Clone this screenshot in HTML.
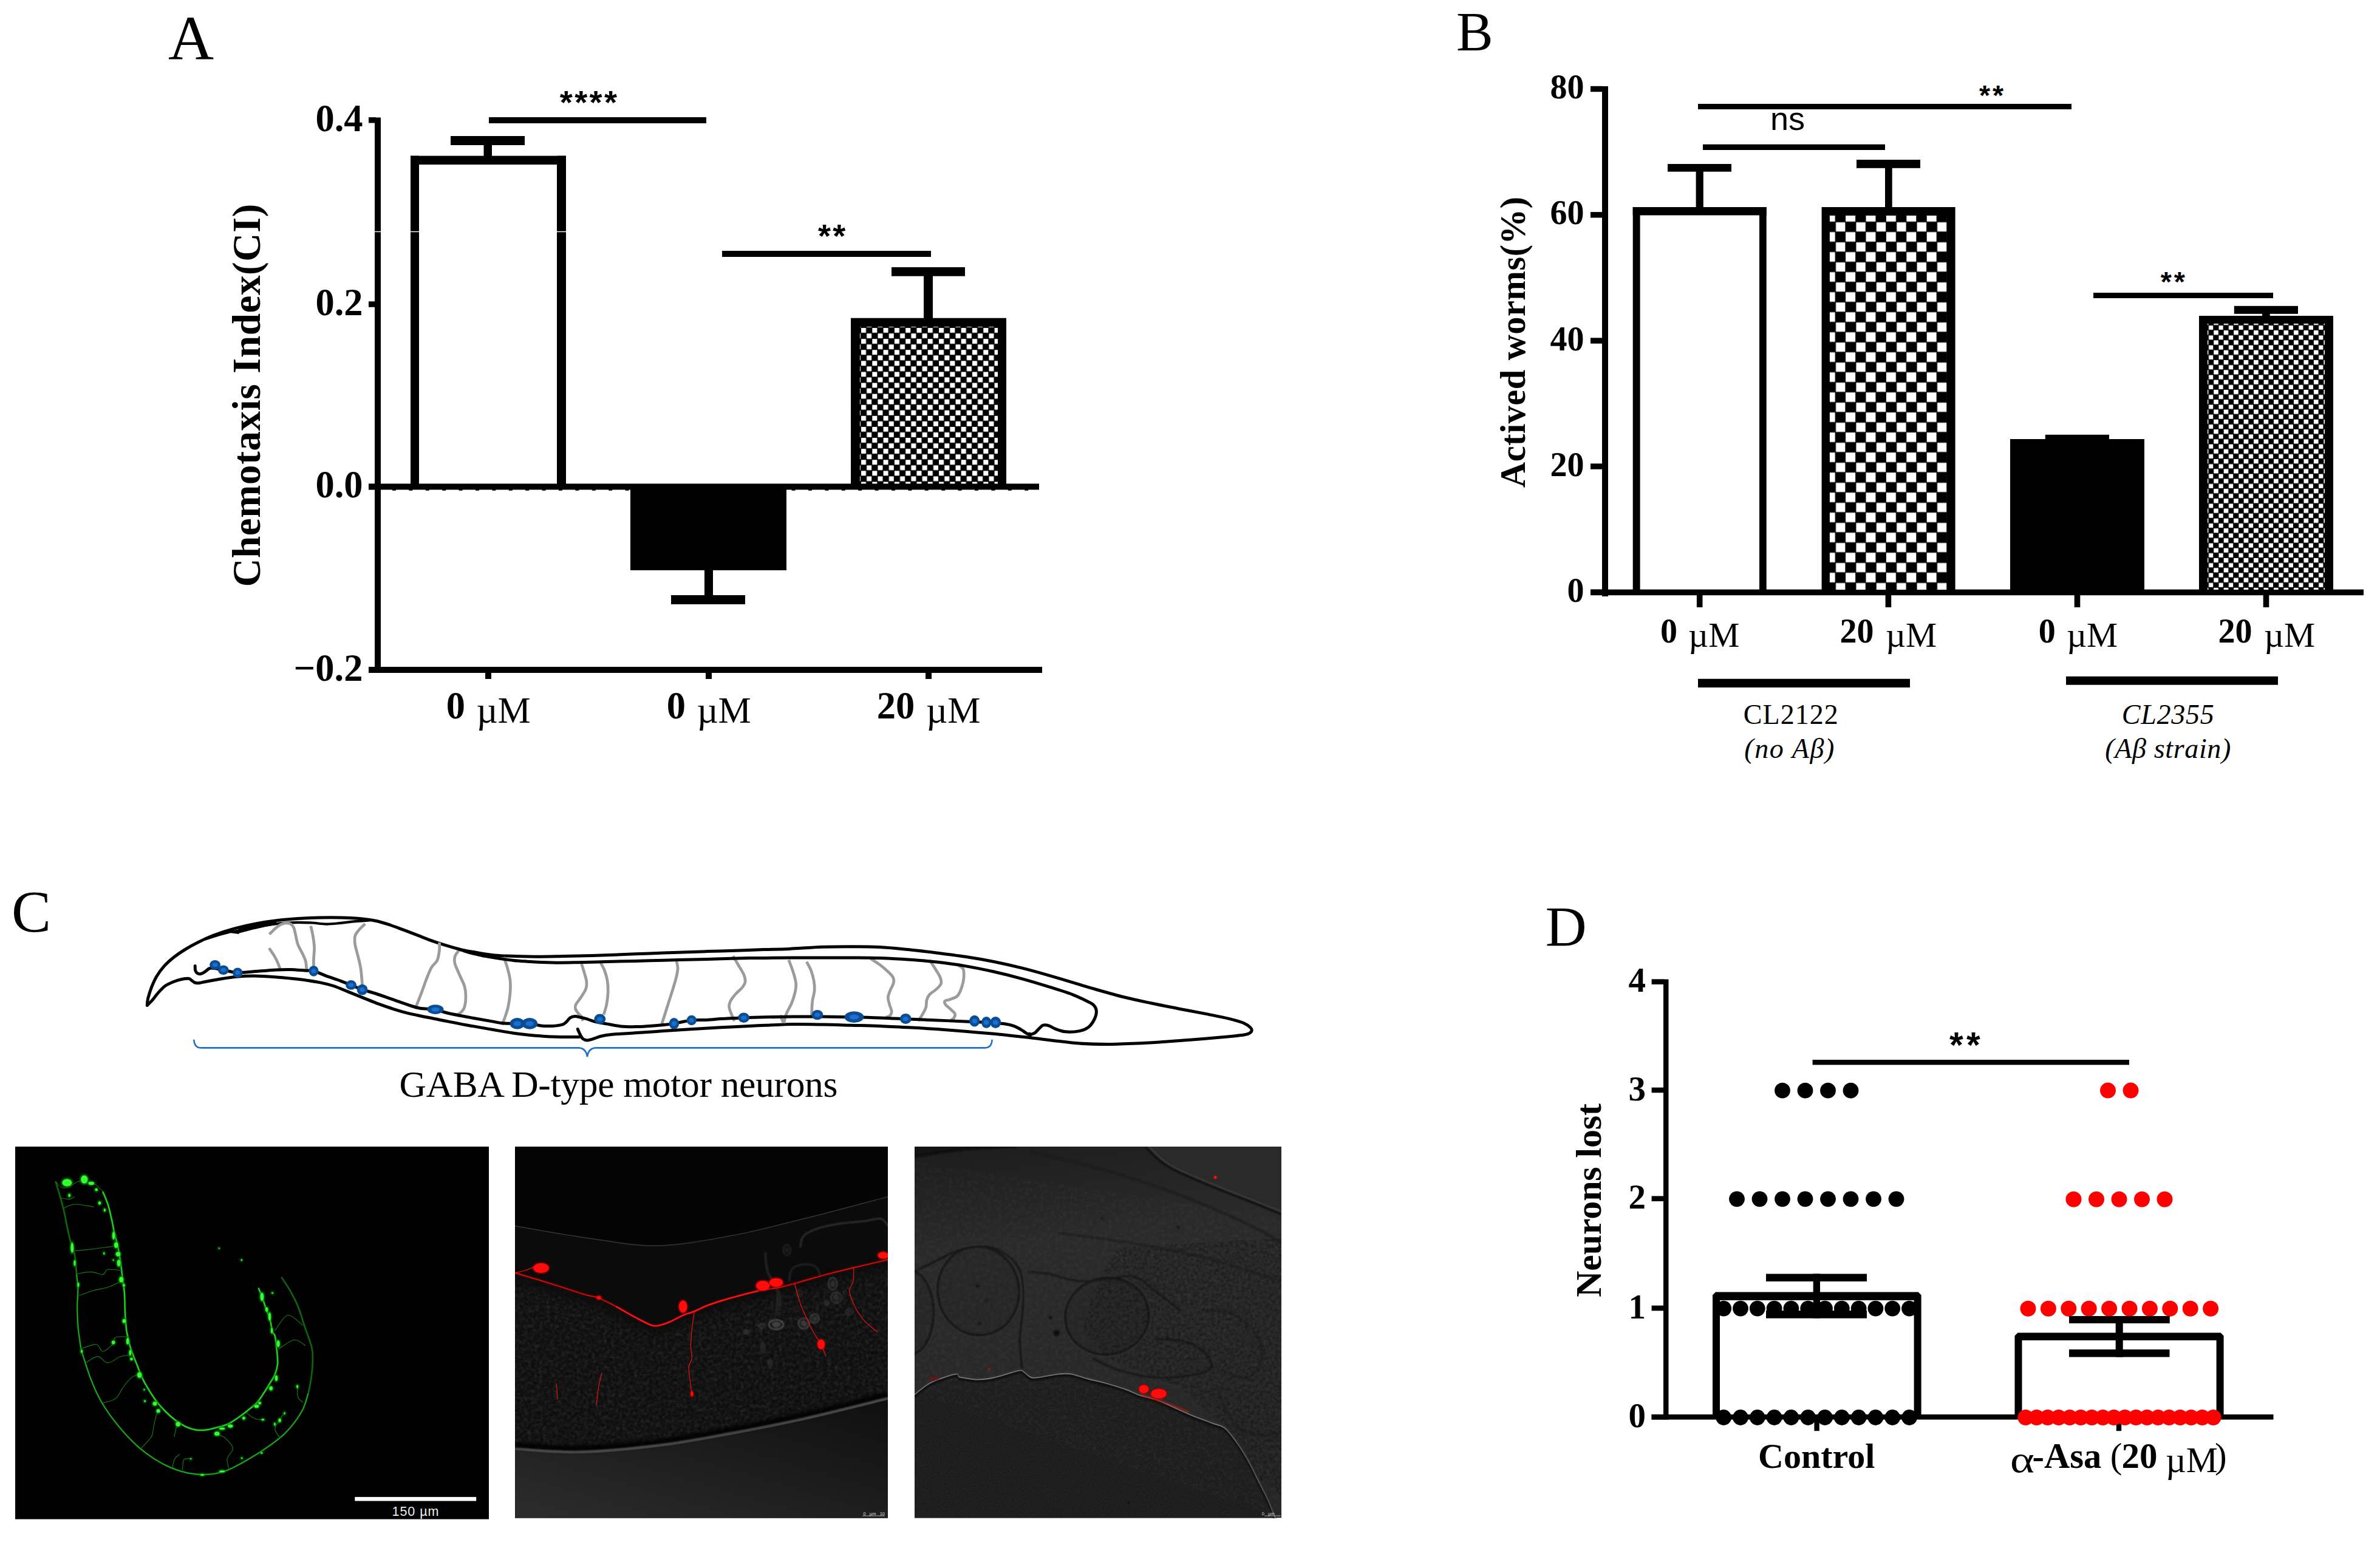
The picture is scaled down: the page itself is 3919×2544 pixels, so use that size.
<!DOCTYPE html>
<html><head><meta charset="utf-8"><title>Figure</title>
<style>
html,body{margin:0;padding:0;background:#fff;}
body{width:3919px;height:2544px;overflow:hidden;font-family:"Liberation Serif",serif;}
svg{display:block;}
text{white-space:pre;}
</style></head><body>
<svg width="3919" height="2544" viewBox="0 0 3919 2544">
<defs>
<pattern id="chkA" x="1417.0" y="539.1" width="18.3" height="18.1" patternUnits="userSpaceOnUse"><rect width="18.3" height="18.1" fill="#000"/><rect x="1.0" y="0.9" width="8.0" height="7.9" fill="#fff"/><rect x="10.15" y="9.95" width="8.0" height="7.9" fill="#fff"/></pattern>
<pattern id="chkB" x="3022.5" y="365.5" width="33.4" height="33.0" patternUnits="userSpaceOnUse"><rect width="33.4" height="33.0" fill="#000"/><rect x="0.5" y="0.5" width="15.4" height="15.2" fill="#fff"/><rect x="16.6" y="16.6" width="16.0" height="15.8" fill="#fff"/></pattern>
<pattern id="chkS" x="3636.5" y="535.5" width="16.47" height="16.3" patternUnits="userSpaceOnUse"><rect width="16.47" height="16.3" fill="#000"/><rect x="0.5" y="0.5" width="7.2" height="7.0" fill="#fff"/><rect x="8.7" y="8.5" width="7.6" height="7.3" fill="#fff"/></pattern>
</defs>
<text x="277.0" y="98.0" font-family="Liberation Serif" font-size="104" font-weight="normal" font-style="normal" text-anchor="start" fill="#000" >A</text>
<rect x="617.0" y="193.5" width="10.0" height="914.2" fill="#000" />
<rect x="607.0" y="193.1" width="12.0" height="9.4" fill="#000" />
<rect x="607.0" y="496.3" width="12.0" height="9.4" fill="#000" />
<rect x="607.0" y="796.8" width="12.0" height="9.4" fill="#000" />
<rect x="607.0" y="1098.3" width="12.0" height="9.4" fill="#000" />
<rect x="607.0" y="1098.0" width="1109.0" height="10.0" fill="#000" />
<rect x="607.0" y="796.4" width="1104.0" height="10.0" fill="#000" />
<line x1="646" y1="806.9" x2="1711" y2="806.9" stroke="#000" stroke-width="1.6" stroke-dasharray="6,21.4"/>
<rect x="799.0" y="1107.0" width="10.0" height="11.0" fill="#000" />
<rect x="1162.0" y="1107.0" width="10.0" height="11.0" fill="#000" />
<rect x="1524.0" y="1107.0" width="10.0" height="11.0" fill="#000" />
<rect x="676.0" y="256.6" width="14.0" height="544.4" fill="#000" />
<rect x="917.0" y="256.6" width="15.0" height="544.4" fill="#000" />
<rect x="676.0" y="256.6" width="256.0" height="14.4" fill="#000" />
<rect x="742.0" y="224.0" width="122.0" height="15.0" fill="#000" />
<rect x="796.5" y="224.0" width="13.5" height="34.0" fill="#000" />
<rect x="617.0" y="380.8" width="316.0" height="1.4" fill="#fff" />
<rect x="1038.0" y="800.0" width="257.0" height="139.0" fill="#000" />
<rect x="1160.0" y="939.0" width="14.0" height="56.0" fill="#000" />
<rect x="1105.0" y="980.0" width="122.0" height="15.0" fill="#000" />
<rect x="1401.0" y="523.7" width="256.0" height="278.3" fill="#000" />
<rect x="1415.9" y="537.9" width="227.1" height="258.5" fill="url(#chkA)" />
<rect x="1468.0" y="440.0" width="121.0" height="14.7" fill="#000" />
<rect x="1521.0" y="440.0" width="15.0" height="85.0" fill="#000" />
<rect x="805.0" y="193.0" width="358.0" height="10.0" fill="#000" />
<text x="921.8 946.2 970.6 995.0" y="187.1" font-family="Liberation Sans" font-weight="bold" font-size="54">****</text>
<rect x="1189.0" y="413.0" width="344.0" height="10.0" fill="#000" />
<text x="1346.9 1371.3" y="406.6" font-family="Liberation Sans" font-weight="bold" font-size="54">**</text>
<text x="597.5" y="215.5" font-family="Liberation Serif" font-size="62.5" font-weight="bold" font-style="normal" text-anchor="end" fill="#000" >0.4</text>
<text x="597.5" y="518.5" font-family="Liberation Serif" font-size="62.5" font-weight="bold" font-style="normal" text-anchor="end" fill="#000" >0.2</text>
<text x="597.5" y="819.0" font-family="Liberation Serif" font-size="62.5" font-weight="bold" font-style="normal" text-anchor="end" fill="#000" >0.0</text>
<text x="597.5" y="1120.5" font-family="Liberation Serif" font-size="62.5" font-weight="bold" font-style="normal" text-anchor="end" fill="#000" >−0.2</text>
<text x="734.7" y="1183.0" font-family="Liberation Serif" font-size="62.5" font-weight="bold">0</text>
<text x="784.4" y="1190.0" font-family="Liberation Serif" font-size="61">µM</text>
<text x="1097.7" y="1183.0" font-family="Liberation Serif" font-size="62.5" font-weight="bold">0</text>
<text x="1147.4" y="1190.0" font-family="Liberation Serif" font-size="61">µM</text>
<text x="1443.7" y="1183.0" font-family="Liberation Serif" font-size="62.5" font-weight="bold">20</text>
<text x="1525.0" y="1190.0" font-family="Liberation Serif" font-size="61">µM</text>
<text transform="translate(427.8,651.0) rotate(-90)" font-family="Liberation Serif" font-size="65" font-weight="bold" text-anchor="middle" textLength="631.0" lengthAdjust="spacing">Chemotaxis Index(CI)</text>
<text x="2398.0" y="83.0" font-family="Liberation Serif" font-size="91" font-weight="normal" font-style="normal" text-anchor="start" fill="#000" >B</text>
<rect x="2638.0" y="142.0" width="10.0" height="840.0" fill="#000" />
<rect x="2619.0" y="141.8" width="20.0" height="9.4" fill="#000" />
<rect x="2619.0" y="349.1" width="20.0" height="9.4" fill="#000" />
<rect x="2619.0" y="556.3" width="20.0" height="9.4" fill="#000" />
<rect x="2619.0" y="763.3" width="20.0" height="9.4" fill="#000" />
<rect x="2619.0" y="970.6" width="20.0" height="9.4" fill="#000" />
<rect x="2619.0" y="970.6" width="1273.0" height="9.6" fill="#000" />
<rect x="2793.9" y="979.0" width="9.6" height="21.0" fill="#000" />
<rect x="3104.6" y="979.0" width="9.6" height="21.0" fill="#000" />
<rect x="3415.7" y="979.0" width="9.6" height="21.0" fill="#000" />
<rect x="3726.7" y="979.0" width="9.6" height="21.0" fill="#000" />
<rect x="2688.7" y="341.0" width="11.9" height="634.0" fill="#000" />
<rect x="2897.0" y="341.0" width="11.7" height="634.0" fill="#000" />
<rect x="2688.7" y="341.0" width="220.0" height="13.5" fill="#000" />
<rect x="2746.0" y="270.0" width="105.0" height="12.7" fill="#000" />
<rect x="2792.6" y="270.0" width="12.2" height="72.0" fill="#000" />
<rect x="2999.6" y="341.0" width="220.0" height="634.0" fill="#000" />
<rect x="3012.9" y="355.0" width="192.8" height="616.0" fill="url(#chkB)" />
<rect x="3057.0" y="263.0" width="105.0" height="13.8" fill="#000" />
<rect x="3104.0" y="263.0" width="11.7" height="79.0" fill="#000" />
<rect x="3310.0" y="723.0" width="221.0" height="252.0" fill="#000" />
<rect x="3367.8" y="715.8" width="105.2" height="8.2" fill="#000" />
<rect x="3621.0" y="520.0" width="221.0" height="455.0" fill="#000" />
<rect x="3634.9" y="532.9" width="193.1" height="438.1" fill="url(#chkS)" />
<rect x="3678.8" y="503.8" width="105.2" height="13.0" fill="#000" />
<rect x="3725.0" y="504.0" width="12.7" height="17.0" fill="#000" />
<rect x="2796.0" y="171.0" width="615.0" height="9.0" fill="#000" />
<text x="3258.9 3280.9" y="173.1" font-family="Liberation Sans" font-weight="bold" font-size="46.5">**</text>
<rect x="2804.0" y="237.7" width="300.0" height="9.3" fill="#000" />
<text x="2943.5" y="214.3" font-family="Liberation Sans" font-size="54" font-weight="normal" font-style="normal" text-anchor="middle" fill="#000" >ns</text>
<rect x="3447.0" y="482.0" width="296.0" height="9.0" fill="#000" />
<text x="3557.7 3579.7" y="480.0" font-family="Liberation Sans" font-weight="bold" font-size="46.5">**</text>
<text x="2608.5" y="162.0" font-family="Liberation Serif" font-size="56" font-weight="bold" font-style="normal" text-anchor="end" fill="#000" >80</text>
<text x="2608.5" y="369.3" font-family="Liberation Serif" font-size="56" font-weight="bold" font-style="normal" text-anchor="end" fill="#000" >60</text>
<text x="2608.5" y="576.5" font-family="Liberation Serif" font-size="56" font-weight="bold" font-style="normal" text-anchor="end" fill="#000" >40</text>
<text x="2608.5" y="783.5" font-family="Liberation Serif" font-size="56" font-weight="bold" font-style="normal" text-anchor="end" fill="#000" >20</text>
<text x="2608.5" y="990.8" font-family="Liberation Serif" font-size="56" font-weight="bold" font-style="normal" text-anchor="end" fill="#000" >0</text>
<text x="2733.9" y="1058.0" font-family="Liberation Serif" font-size="56" font-weight="bold">0</text>
<text x="2780.1" y="1065.0" font-family="Liberation Serif" font-size="57.5">µM</text>
<text x="3029.6" y="1058.0" font-family="Liberation Serif" font-size="56" font-weight="bold">20</text>
<text x="3104.9" y="1065.0" font-family="Liberation Serif" font-size="57.5">µM</text>
<text x="3356.7" y="1058.0" font-family="Liberation Serif" font-size="56" font-weight="bold">0</text>
<text x="3402.9" y="1065.0" font-family="Liberation Serif" font-size="57.5">µM</text>
<text x="3652.6" y="1058.0" font-family="Liberation Serif" font-size="56" font-weight="bold">20</text>
<text x="3727.9" y="1065.0" font-family="Liberation Serif" font-size="57.5">µM</text>
<rect x="2796.0" y="1117.8" width="349.0" height="14.2" fill="#000" />
<rect x="3402.0" y="1113.8" width="349.0" height="13.9" fill="#000" />
<text x="2948.8" y="1192.0" font-family="Liberation Serif" font-size="46" font-weight="normal" font-style="normal" text-anchor="middle" fill="#000" textLength="156.0" lengthAdjust="spacing" >CL2122</text>
<text x="2946.3" y="1248.0" font-family="Liberation Serif" font-size="46" font-weight="normal" font-style="italic" text-anchor="middle" fill="#000" textLength="148.0" lengthAdjust="spacing" >(no Aβ)</text>
<text x="3569.8" y="1191.5" font-family="Liberation Serif" font-size="46" font-weight="normal" font-style="italic" text-anchor="middle" fill="#000" textLength="152.0" lengthAdjust="spacing" >CL2355</text>
<text x="3569.8" y="1248.0" font-family="Liberation Serif" font-size="46" font-weight="normal" font-style="italic" text-anchor="middle" fill="#000" textLength="207.0" lengthAdjust="spacing" >(Aβ strain)</text>
<text transform="translate(2511.0,563.5) rotate(-90)" font-family="Liberation Serif" font-size="58.5" font-weight="bold" text-anchor="middle" textLength="479.0" lengthAdjust="spacing">Actived worms(%)</text>
<text x="19.0" y="1534.0" font-family="Liberation Serif" font-size="97.5" font-weight="normal" font-style="normal" text-anchor="start" fill="#000" >C</text>
<path d="M242.4,1655.3C242.5,1653.5 242.4,1649.6 243.5,1644.7C244.7,1639.8 247.1,1632.0 249.4,1625.9C251.8,1619.8 254.3,1613.9 257.6,1608.2C261.0,1602.5 264.7,1597.1 269.4,1591.8C274.1,1586.5 280.0,1581.2 285.9,1576.5C291.8,1571.8 298.0,1567.6 304.7,1563.5C311.4,1559.4 318.0,1555.7 325.9,1551.8C333.7,1547.8 342.0,1543.7 351.8,1540.0C361.6,1536.3 373.3,1532.5 384.7,1529.4C396.1,1526.3 408.2,1523.5 420.0,1521.2C431.8,1518.9 443.5,1517.2 455.3,1515.8C467.1,1514.3 478.8,1513.3 490.6,1512.5C502.3,1511.7 514.1,1511.3 525.9,1511.1C537.6,1510.8 549.4,1510.7 561.2,1511.1C572.9,1511.4 586.7,1512.0 596.5,1512.9C606.3,1513.8 612.1,1514.7 620.0,1516.5C627.8,1518.2 635.7,1520.9 643.5,1523.5C651.4,1526.2 659.2,1529.3 667.1,1532.2C674.9,1535.2 682.7,1538.2 690.6,1541.2C698.4,1544.2 706.3,1547.4 714.1,1550.1C722.0,1552.9 729.8,1555.3 737.6,1557.6C745.5,1560.0 754.1,1562.6 761.2,1564.2C768.2,1565.9 771.8,1566.2 780.0,1567.5C788.2,1568.9 801.6,1571.4 810.6,1572.5C819.6,1573.6 822.4,1573.6 834.1,1574.1C845.9,1574.6 865.5,1575.2 881.2,1575.3C896.9,1575.4 912.5,1574.9 928.2,1574.6C943.9,1574.3 959.6,1573.9 975.3,1573.4C991.0,1572.9 1006.7,1572.4 1022.3,1571.8C1038.0,1571.2 1053.7,1570.5 1069.4,1569.9C1085.1,1569.3 1100.8,1568.8 1116.5,1568.2C1132.1,1567.7 1147.8,1567.1 1163.5,1566.6C1179.2,1566.1 1194.9,1565.7 1210.6,1565.2C1226.3,1564.7 1242.7,1564.0 1257.6,1563.5C1272.5,1563.1 1283.9,1563.1 1300.0,1562.4C1316.1,1561.6 1337.3,1559.9 1354.1,1559.3C1371.0,1558.7 1385.5,1558.8 1401.2,1558.8C1416.9,1558.9 1432.5,1558.7 1448.2,1559.5C1463.9,1560.3 1479.6,1562.0 1495.3,1563.5C1511.0,1565.1 1526.7,1567.0 1542.3,1568.9C1558.0,1570.9 1573.7,1572.9 1589.4,1575.3C1605.1,1577.7 1620.8,1580.4 1636.5,1583.5C1652.1,1586.7 1667.8,1590.2 1683.5,1594.1C1699.2,1598.0 1714.9,1602.5 1730.6,1607.1C1746.3,1611.6 1765.9,1617.6 1777.6,1621.2C1789.4,1624.7 1789.4,1624.9 1801.2,1628.2C1812.9,1631.6 1832.5,1637.3 1848.2,1641.2C1863.9,1645.1 1879.6,1648.4 1895.3,1651.8C1911.0,1655.1 1926.7,1658.1 1942.3,1661.2C1958.0,1664.2 1975.7,1667.4 1989.4,1670.1C2003.1,1672.9 2014.9,1675.2 2024.7,1677.6C2034.5,1680.1 2042.5,1682.3 2048.2,1684.7C2053.9,1687.1 2056.7,1689.8 2058.8,1691.8C2061.0,1693.7 2061.4,1694.9 2061.2,1696.5C2061.0,1698.0 2059.8,1699.9 2057.6,1701.2C2055.5,1702.4 2055.7,1702.9 2048.2,1704.0C2040.8,1705.1 2026.7,1706.5 2012.9,1707.8C1999.2,1709.1 1981.6,1710.5 1965.9,1711.8C1950.2,1713.0 1934.5,1714.2 1918.8,1715.3C1903.1,1716.3 1887.4,1717.4 1871.8,1718.1C1856.1,1718.8 1840.4,1719.5 1824.7,1719.5C1809.0,1719.5 1793.3,1719.2 1777.6,1718.1C1762.0,1717.0 1744.3,1714.5 1730.6,1712.9C1716.9,1711.3 1707.1,1709.8 1695.3,1708.5C1683.5,1707.1 1669.8,1705.7 1660.0,1704.7C1650.2,1703.7 1648.2,1703.4 1636.5,1702.3C1624.7,1701.3 1605.1,1699.6 1589.4,1698.3C1573.7,1697.1 1558.0,1695.7 1542.3,1694.6C1526.7,1693.5 1511.0,1692.6 1495.3,1691.8C1479.6,1690.9 1463.9,1690.0 1448.2,1689.4C1432.5,1688.8 1416.9,1688.6 1401.2,1688.2C1385.5,1687.8 1369.8,1687.3 1354.1,1687.1C1338.4,1686.8 1322.7,1686.4 1307.1,1686.6C1291.4,1686.8 1272.2,1687.8 1260.0,1688.2C1247.8,1688.7 1246.3,1688.8 1234.1,1689.4C1222.0,1690.0 1202.7,1690.9 1187.1,1691.8C1171.4,1692.6 1155.7,1693.6 1140.0,1694.6C1124.3,1695.6 1108.6,1696.6 1092.9,1697.6C1077.2,1698.7 1060.4,1699.7 1045.9,1700.7C1031.4,1701.7 1015.3,1702.6 1005.9,1703.5C996.5,1704.5 994.5,1705.1 989.4,1706.3C984.3,1707.6 979.0,1710.0 975.3,1711.1C971.6,1712.2 969.6,1713.0 967.1,1712.9C964.5,1712.9 962.0,1712.2 960.0,1710.6C958.0,1709.0 956.7,1706.2 955.3,1703.5C953.8,1700.9 952.0,1696.1 951.3,1694.6" stroke="#000" stroke-width="5.0" fill="none" stroke-linecap="round" stroke-linejoin="round" />
<path d="M953.6,1707.5C951.4,1707.5 946.2,1707.6 940.0,1707.5C933.8,1707.5 926.3,1707.7 916.5,1707.3C906.7,1706.9 892.9,1706.2 881.2,1705.2C869.4,1704.2 857.6,1702.8 845.9,1701.2C834.1,1699.5 821.6,1697.2 810.6,1695.3C799.6,1693.4 788.2,1691.3 780.0,1689.9C771.8,1688.4 768.2,1687.9 761.2,1686.6C754.1,1685.3 745.5,1683.4 737.6,1681.9C729.8,1680.3 722.0,1678.7 714.1,1677.2C706.3,1675.6 698.4,1674.2 690.6,1672.5C682.7,1670.8 674.9,1669.1 667.1,1667.1C659.2,1665.0 651.4,1662.5 643.5,1660.0C635.7,1657.4 627.8,1654.7 620.0,1651.8C612.1,1648.8 604.3,1645.5 596.5,1642.4C588.6,1639.2 580.8,1636.1 572.9,1632.9C565.1,1629.8 557.2,1626.1 549.4,1623.5C541.6,1621.0 535.7,1619.5 525.9,1617.6C516.1,1615.8 502.3,1613.7 490.6,1612.2C478.8,1610.8 467.1,1609.8 455.3,1608.9C443.5,1608.1 431.0,1607.2 420.0,1607.1C409.0,1606.9 399.2,1607.4 389.4,1608.2C379.6,1609.1 370.6,1610.7 361.2,1612.2C351.8,1613.8 338.8,1616.5 332.9,1617.6C327.1,1618.7 328.0,1618.8 325.9,1618.8C323.7,1618.8 321.8,1618.4 320.0,1617.6C318.2,1616.9 316.9,1615.2 315.3,1614.1C313.7,1613.1 313.1,1611.6 310.6,1611.3C308.0,1611.0 304.1,1611.4 300.0,1612.2C295.9,1613.1 290.6,1614.6 285.9,1616.5C281.2,1618.4 276.1,1620.4 271.8,1623.5C267.5,1626.7 263.5,1631.4 260.0,1635.3C256.5,1639.2 253.5,1643.7 250.6,1647.1C247.6,1650.4 243.7,1653.9 242.4,1655.3" stroke="#000" stroke-width="5.0" fill="none" stroke-linecap="round" stroke-linejoin="round" />
<path d="M392.9,1534.6C397.4,1533.5 411.6,1529.8 420.0,1527.8C428.4,1525.8 435.7,1523.9 443.5,1522.6C451.4,1521.3 459.2,1520.4 467.1,1519.8C474.9,1519.1 482.7,1518.9 490.6,1518.8C498.4,1518.8 506.3,1519.1 514.1,1519.5C522.0,1520.0 529.8,1521.6 537.6,1521.6C545.5,1521.7 553.3,1520.5 561.2,1519.8C569.0,1519.0 576.9,1517.9 584.7,1517.2C592.5,1516.5 604.3,1515.8 608.2,1515.5" stroke="#000" stroke-width="4.2" fill="none" stroke-linecap="round" stroke-linejoin="round" />
<path d="M392.9,1533.2C397.4,1531.9 409.6,1528.0 420.0,1525.6C430.4,1523.3 449.4,1520.2 455.3,1519.1" stroke="#000" stroke-width="7" fill="none" stroke-linecap="butt"/>
<path d="M337.6,1548.7 L361.2,1541.2 L380.0,1536.2 L393.4,1538.1 L393.4,1530.6 L380.0,1532.2 L361.2,1537.9 L337.6,1546.8 Z" fill="#000"/>
<path d="M443.5,1538.4C445.5,1536.5 451.8,1529.9 455.3,1527.1C458.8,1524.2 461.2,1522.3 464.7,1521.2C468.2,1520.1 473.3,1519.5 476.5,1520.5C479.6,1521.5 481.8,1523.6 483.5,1527.1C485.3,1530.5 485.9,1536.5 487.1,1541.2C488.2,1545.9 488.6,1550.2 490.6,1555.3C492.5,1560.4 496.7,1567.1 498.8,1571.8C501.0,1576.5 502.5,1579.2 503.5,1583.5C504.5,1587.8 504.5,1595.3 504.7,1597.6" stroke="#9b9b9b" stroke-width="4.7" fill="none" stroke-linecap="butt" stroke-linejoin="round"/>
<path d="M443.1,1561.2C444.5,1563.3 449.3,1570.0 451.8,1574.1C454.2,1578.2 455.9,1581.8 457.6,1585.9C459.4,1590.0 461.6,1596.7 462.3,1598.8" stroke="#9b9b9b" stroke-width="4.7" fill="none" stroke-linecap="butt" stroke-linejoin="round"/>
<path d="M511.8,1524.7C512.3,1527.5 514.3,1535.3 515.3,1541.2C516.3,1547.1 517.4,1553.7 517.6,1560.0C517.8,1566.3 516.7,1573.7 516.5,1578.8C516.3,1583.9 516.5,1588.6 516.5,1590.6" stroke="#9b9b9b" stroke-width="4.7" fill="none" stroke-linecap="butt" stroke-linejoin="round"/>
<path d="M601.2,1521.2C599.4,1522.9 593.3,1528.4 590.6,1531.8C587.8,1535.1 585.7,1537.3 584.7,1541.2C583.7,1545.1 583.9,1549.8 584.7,1555.3C585.5,1560.8 587.8,1567.4 589.4,1574.1C591.0,1580.8 592.9,1587.4 594.1,1595.3C595.3,1603.1 596.1,1616.9 596.5,1621.2" stroke="#9b9b9b" stroke-width="4.7" fill="none" stroke-linecap="butt" stroke-linejoin="round"/>
<path d="M723.5,1551.8C723.5,1553.9 724.1,1559.8 723.5,1564.7C722.9,1569.6 722.1,1576.5 720.0,1581.2C717.8,1585.9 713.5,1587.8 710.6,1592.9C707.6,1598.0 705.3,1604.3 702.3,1611.8C699.4,1619.2 696.1,1629.4 692.9,1637.6C689.8,1645.9 685.1,1657.3 683.5,1661.2" stroke="#9b9b9b" stroke-width="4.7" fill="none" stroke-linecap="butt" stroke-linejoin="round"/>
<path d="M757.6,1562.4C756.3,1564.3 750.9,1570.2 749.4,1574.1C748.0,1578.0 747.8,1580.8 748.9,1585.9C750.1,1591.0 753.8,1598.4 756.5,1604.7C759.1,1611.0 762.9,1617.6 764.7,1623.5C766.5,1629.4 767.0,1634.1 767.0,1640.0C767.0,1645.9 766.1,1654.3 764.7,1658.8C763.3,1663.3 760.9,1665.0 758.8,1667.1C756.7,1669.1 753.3,1670.4 752.2,1671.1" stroke="#9b9b9b" stroke-width="4.7" fill="none" stroke-linecap="butt" stroke-linejoin="round"/>
<path d="M829.4,1576.0C830.4,1578.8 833.5,1586.6 835.3,1592.9C837.1,1599.3 839.2,1607.1 840.0,1614.1C840.8,1621.2 840.6,1627.8 840.0,1635.3C839.4,1642.7 838.0,1651.8 836.5,1658.8C834.9,1665.9 832.2,1672.9 830.6,1677.6C828.9,1682.4 827.3,1685.9 826.6,1687.5" stroke="#9b9b9b" stroke-width="4.7" fill="none" stroke-linecap="butt" stroke-linejoin="round"/>
<path d="M957.6,1587.1C958.4,1589.6 961.0,1597.4 962.3,1602.4C963.7,1607.3 965.5,1612.2 965.9,1616.5C966.3,1620.8 966.3,1623.9 964.7,1628.2C963.1,1632.5 959.2,1638.0 956.5,1642.4C953.7,1646.7 949.7,1651.0 948.2,1654.1C946.7,1657.3 946.7,1658.6 947.5,1661.2C948.3,1663.7 951.1,1667.1 952.9,1669.4C954.8,1671.8 957.8,1673.3 958.8,1675.3C959.9,1677.3 959.2,1680.2 959.3,1681.2" stroke="#9b9b9b" stroke-width="4.7" fill="none" stroke-linecap="butt" stroke-linejoin="round"/>
<path d="M987.8,1582.8C989.0,1585.3 993.3,1592.4 995.3,1597.6C997.3,1602.9 999.0,1608.2 1000.0,1614.1C1001.0,1620.0 1001.4,1626.3 1001.2,1632.9C1001.0,1639.6 1000.0,1647.8 998.8,1654.1C997.6,1660.4 994.9,1667.8 994.1,1670.6" stroke="#9b9b9b" stroke-width="4.7" fill="none" stroke-linecap="butt" stroke-linejoin="round"/>
<path d="M1114.1,1582.8C1114.4,1584.9 1116.2,1590.5 1116.0,1595.3C1115.8,1600.1 1114.6,1605.1 1112.9,1611.8C1111.2,1618.4 1108.4,1627.1 1105.9,1635.3C1103.3,1643.5 1100.4,1652.5 1097.6,1661.2C1094.9,1669.9 1090.8,1683.1 1089.4,1687.5" stroke="#9b9b9b" stroke-width="4.7" fill="none" stroke-linecap="butt" stroke-linejoin="round"/>
<path d="M1207.1,1574.1C1208.4,1576.5 1212.3,1583.1 1215.3,1588.2C1218.2,1593.3 1222.7,1600.0 1224.7,1604.7C1226.7,1609.4 1227.4,1612.9 1227.1,1616.5C1226.7,1620.0 1225.1,1622.4 1222.3,1625.9C1219.6,1629.4 1213.9,1633.7 1210.6,1637.6C1207.2,1641.6 1204.0,1645.9 1202.3,1649.4C1200.7,1652.9 1200.3,1655.3 1200.7,1658.8C1201.1,1662.3 1203.2,1666.9 1204.7,1670.6C1206.1,1674.3 1208.6,1679.4 1209.4,1681.2" stroke="#9b9b9b" stroke-width="4.7" fill="none" stroke-linecap="butt" stroke-linejoin="round"/>
<path d="M1298.8,1580.7C1300.0,1583.9 1303.9,1593.6 1305.9,1600.0C1307.8,1606.4 1310.0,1613.3 1310.6,1618.8C1311.2,1624.3 1310.6,1627.4 1309.4,1632.9C1308.2,1638.4 1305.9,1645.9 1303.5,1651.8C1301.2,1657.6 1297.5,1662.7 1295.3,1668.2C1293.1,1673.7 1291.4,1682.0 1290.6,1684.7" stroke="#9b9b9b" stroke-width="4.7" fill="none" stroke-linecap="butt" stroke-linejoin="round"/>
<path d="M1284.7,1671.8C1285.6,1673.8 1289.2,1682.2 1290.1,1684.2" stroke="#9b9b9b" stroke-width="4.7" fill="none" stroke-linecap="butt" stroke-linejoin="round"/>
<path d="M1328.2,1583.5C1329.4,1585.9 1333.3,1592.5 1335.3,1597.6C1337.3,1602.7 1339.0,1608.6 1340.0,1614.1C1341.0,1619.6 1341.6,1624.7 1341.2,1630.6C1340.8,1636.5 1338.4,1642.5 1337.6,1649.4C1336.9,1656.3 1336.7,1668.0 1336.5,1671.8" stroke="#9b9b9b" stroke-width="4.7" fill="none" stroke-linecap="butt" stroke-linejoin="round"/>
<path d="M1433.6,1578.4C1436.1,1580.0 1443.4,1584.6 1448.2,1588.2C1453.0,1591.8 1458.6,1596.5 1462.3,1600.0C1466.1,1603.5 1469.1,1606.3 1470.6,1609.4C1472.1,1612.5 1472.1,1615.3 1471.3,1618.8C1470.5,1622.4 1467.4,1626.7 1465.9,1630.6C1464.4,1634.5 1462.5,1638.4 1462.3,1642.4C1462.2,1646.3 1463.7,1650.2 1464.7,1654.1C1465.7,1658.0 1468.2,1662.7 1468.2,1665.9C1468.2,1669.0 1466.3,1671.4 1464.7,1672.9C1463.1,1674.4 1459.8,1674.5 1458.8,1674.8" stroke="#9b9b9b" stroke-width="4.7" fill="none" stroke-linecap="butt" stroke-linejoin="round"/>
<path d="M1530.6,1580.7C1532.2,1583.1 1537.1,1590.5 1540.0,1595.3C1542.9,1600.1 1546.7,1605.3 1548.2,1609.4C1549.8,1613.5 1550.6,1616.7 1549.4,1620.0C1548.2,1623.3 1544.3,1626.5 1541.2,1629.4C1538.0,1632.4 1533.1,1634.7 1530.6,1637.6C1528.0,1640.6 1526.9,1643.5 1525.9,1647.1C1524.9,1650.6 1525.9,1654.9 1524.7,1658.8C1523.5,1662.7 1521.0,1666.9 1518.8,1670.6C1516.7,1674.3 1512.9,1679.4 1511.8,1681.2" stroke="#9b9b9b" stroke-width="4.7" fill="none" stroke-linecap="butt" stroke-linejoin="round"/>
<path d="M1576.5,1588.7C1578.0,1589.8 1584.1,1591.8 1585.9,1595.3C1587.6,1598.7 1587.4,1604.3 1587.1,1609.4C1586.7,1614.5 1585.3,1620.8 1583.5,1625.9C1581.8,1631.0 1579.8,1636.7 1576.5,1640.0C1573.1,1643.3 1566.9,1644.5 1563.5,1645.9C1560.1,1647.3 1557.1,1646.9 1556.0,1648.2C1554.9,1649.6 1555.3,1651.8 1556.9,1654.1C1558.6,1656.5 1563.3,1659.8 1565.9,1662.3C1568.5,1664.9 1571.7,1667.1 1572.5,1669.4C1573.2,1671.8 1571.7,1674.8 1570.6,1676.5C1569.5,1678.2 1566.7,1679.0 1565.9,1679.5" stroke="#9b9b9b" stroke-width="4.7" fill="none" stroke-linecap="butt" stroke-linejoin="round"/>
<path d="M754.1,1562.4C757.6,1563.5 767.8,1567.2 775.3,1569.2C782.7,1571.2 791.0,1572.8 798.8,1574.4C806.7,1575.9 814.5,1577.2 822.4,1578.4C830.2,1579.5 840.0,1580.7 845.9,1581.4C851.8,1582.1 851.8,1581.9 857.6,1582.4C863.5,1582.8 871.4,1583.5 881.2,1584.0C891.0,1584.5 904.7,1585.1 916.5,1585.2C928.2,1585.3 938.0,1585.0 951.8,1584.7C965.5,1584.4 983.1,1583.9 998.8,1583.5C1014.5,1583.1 1030.2,1582.7 1045.9,1582.4C1061.6,1582.0 1077.2,1581.6 1092.9,1581.2C1108.6,1580.8 1124.3,1580.4 1140.0,1580.0C1155.7,1579.6 1171.4,1579.2 1187.1,1578.8C1202.7,1578.4 1222.0,1577.9 1234.1,1577.6C1246.3,1577.4 1243.9,1577.5 1260.0,1577.4C1276.1,1577.3 1307.1,1577.0 1330.6,1576.9C1354.1,1576.9 1381.6,1576.8 1401.2,1576.9C1420.8,1577.1 1432.5,1577.1 1448.2,1577.6C1463.9,1578.2 1479.6,1578.9 1495.3,1580.0C1511.0,1581.1 1526.7,1582.2 1542.3,1584.0C1558.0,1585.8 1573.7,1587.9 1589.4,1590.6C1605.1,1593.3 1620.8,1596.5 1636.5,1600.0C1652.1,1603.5 1667.8,1607.4 1683.5,1611.8C1699.2,1616.1 1716.9,1621.6 1730.6,1625.9C1744.3,1630.2 1756.1,1633.9 1765.9,1637.6C1775.7,1641.4 1783.5,1645.3 1789.4,1648.2C1795.3,1651.2 1798.5,1652.3 1801.2,1655.3C1803.8,1658.2 1805.4,1661.8 1805.4,1665.9C1805.4,1670.0 1803.4,1675.7 1801.2,1680.0C1798.9,1684.3 1795.7,1688.8 1791.8,1691.8C1787.8,1694.7 1783.9,1696.5 1777.6,1697.6C1771.4,1698.8 1760.8,1699.4 1754.1,1698.8C1747.4,1698.2 1742.1,1695.8 1737.6,1694.1C1733.1,1692.5 1730.4,1689.9 1727.1,1688.9C1723.7,1688.0 1720.4,1687.4 1717.6,1688.2C1714.9,1689.1 1712.9,1692.0 1710.6,1694.1C1708.2,1696.3 1706.1,1699.6 1703.5,1701.2C1701.0,1702.7 1697.4,1703.4 1695.3,1703.5C1693.1,1703.6 1692.9,1703.0 1690.6,1701.6C1688.2,1700.3 1684.7,1697.3 1681.2,1695.3C1677.6,1693.3 1673.7,1691.0 1669.4,1689.4C1665.1,1687.8 1662.7,1686.9 1655.3,1685.9C1647.8,1684.9 1635.7,1684.2 1624.7,1683.5C1613.7,1682.9 1603.1,1682.5 1589.4,1681.9C1575.7,1681.3 1558.0,1680.6 1542.3,1680.0C1526.7,1679.4 1511.0,1678.8 1495.3,1678.1C1479.6,1677.4 1463.9,1676.5 1448.2,1676.0C1432.5,1675.4 1416.9,1675.1 1401.2,1674.8C1385.5,1674.5 1369.8,1674.2 1354.1,1674.1C1338.4,1674.0 1322.7,1674.0 1307.1,1674.1C1291.4,1674.2 1273.7,1674.5 1260.0,1674.8C1246.3,1675.1 1232.9,1675.5 1224.7,1675.8C1216.5,1676.0 1216.9,1676.2 1210.6,1676.5C1204.3,1676.8 1194.9,1677.1 1187.1,1677.6C1179.2,1678.2 1171.6,1679.1 1163.5,1679.5C1155.5,1679.9 1147.8,1679.0 1138.8,1680.0C1129.8,1681.0 1117.1,1684.2 1109.4,1685.4C1101.8,1686.7 1099.6,1686.9 1092.9,1687.5C1086.3,1688.2 1077.2,1688.9 1069.4,1689.4C1061.6,1689.9 1053.7,1690.5 1045.9,1690.6C1038.0,1690.7 1030.2,1690.7 1022.3,1689.9C1014.5,1689.1 1005.9,1687.1 998.8,1685.9C991.8,1684.6 985.5,1683.7 980.0,1682.3C974.5,1681.0 969.8,1678.8 965.9,1677.6C962.0,1676.5 959.6,1676.0 956.5,1675.3C953.3,1674.6 950.0,1673.3 947.1,1673.4C944.1,1673.5 941.2,1674.3 938.8,1675.8C936.5,1677.3 935.1,1680.5 932.9,1682.3C930.8,1684.2 929.8,1685.9 925.9,1687.1C922.0,1688.2 915.3,1689.1 909.4,1689.4C903.5,1689.7 896.8,1689.6 890.6,1688.9C884.4,1688.3 878.7,1686.0 872.2,1685.4C865.8,1684.8 859.3,1685.5 851.8,1685.4C844.2,1685.3 833.9,1685.3 827.1,1684.7C820.2,1684.1 818.4,1683.3 810.6,1681.9C802.7,1680.5 792.2,1678.7 780.0,1676.5C767.8,1674.2 748.2,1670.6 737.6,1668.2C727.0,1665.9 724.3,1663.7 716.5,1662.3C708.6,1661.0 698.8,1661.6 690.6,1660.0C682.3,1658.4 674.9,1655.5 667.1,1652.9C659.2,1650.4 651.4,1647.4 643.5,1644.7C635.7,1642.0 627.8,1639.0 620.0,1636.5C612.1,1633.9 603.5,1631.8 596.5,1629.4C589.4,1627.0 583.5,1624.2 577.6,1621.9C571.8,1619.5 567.8,1617.8 561.2,1615.3C554.5,1612.8 545.1,1609.8 537.6,1607.1C530.2,1604.3 522.3,1600.3 516.5,1598.8C510.6,1597.3 508.6,1598.5 502.3,1598.1C496.1,1597.7 486.7,1596.7 478.8,1596.5C471.0,1596.3 465.1,1596.4 455.3,1596.9C445.5,1597.4 430.7,1598.7 420.0,1599.5C409.3,1600.3 400.0,1602.0 391.3,1601.6C382.6,1601.3 375.1,1598.4 367.8,1597.2C360.4,1595.9 352.1,1593.6 347.1,1594.1C342.0,1594.6 340.4,1598.4 337.6,1600.0C334.9,1601.6 332.7,1603.1 330.6,1603.5C328.4,1603.9 326.2,1603.3 324.7,1602.4C323.2,1601.4 322.2,1599.6 321.6,1597.6C321.1,1595.7 321.3,1591.8 321.2,1590.6" stroke="#000" stroke-width="5.0" fill="none" stroke-linecap="round" stroke-linejoin="round" />
<path d="M1695.3,1702.3C1695.5,1703.3 1696.3,1706.9 1696.5,1707.8" stroke="#000" stroke-width="5.0" fill="none" stroke-linecap="round" stroke-linejoin="round" />
<ellipse cx="354.1" cy="1588.7" rx="8.9" ry="7.8" fill="#0a4d93"/>
<ellipse cx="354.1" cy="1588.7" rx="4.5" ry="3.3" fill="#1c6fd0"/>
<ellipse cx="367.8" cy="1597.2" rx="8.9" ry="7.8" fill="#0a4d93"/>
<ellipse cx="367.8" cy="1597.2" rx="4.5" ry="3.3" fill="#1c6fd0"/>
<ellipse cx="391.3" cy="1601.6" rx="8.2" ry="8.2" fill="#0a4d93"/>
<ellipse cx="391.3" cy="1601.6" rx="4.1" ry="3.5" fill="#1c6fd0"/>
<ellipse cx="516.5" cy="1598.8" rx="8.0" ry="8.9" fill="#0a4d93"/>
<ellipse cx="516.5" cy="1598.8" rx="4.0" ry="3.8" fill="#1c6fd0"/>
<ellipse cx="578.1" cy="1621.9" rx="8.9" ry="7.8" fill="#0a4d93"/>
<ellipse cx="578.1" cy="1621.9" rx="4.5" ry="3.3" fill="#1c6fd0"/>
<ellipse cx="596.5" cy="1629.6" rx="8.9" ry="8.9" fill="#0a4d93"/>
<ellipse cx="596.5" cy="1629.6" rx="4.5" ry="3.8" fill="#1c6fd0"/>
<ellipse cx="716.9" cy="1662.1" rx="13.6" ry="7.8" fill="#0a4d93"/>
<ellipse cx="716.9" cy="1662.1" rx="6.8" ry="3.3" fill="#1c6fd0"/>
<ellipse cx="851.8" cy="1685.4" rx="12.2" ry="9.4" fill="#0a4d93"/>
<ellipse cx="851.8" cy="1685.4" rx="6.1" ry="4.0" fill="#1c6fd0"/>
<ellipse cx="872.2" cy="1685.4" rx="12.9" ry="9.4" fill="#0a4d93"/>
<ellipse cx="872.2" cy="1685.4" rx="6.5" ry="4.0" fill="#1c6fd0"/>
<ellipse cx="987.8" cy="1678.1" rx="9.4" ry="8.5" fill="#0a4d93"/>
<ellipse cx="987.8" cy="1678.1" rx="4.7" ry="3.6" fill="#1c6fd0"/>
<ellipse cx="1109.9" cy="1685.4" rx="8.2" ry="9.4" fill="#0a4d93"/>
<ellipse cx="1109.9" cy="1685.4" rx="4.1" ry="4.0" fill="#1c6fd0"/>
<ellipse cx="1138.8" cy="1680.0" rx="8.2" ry="8.2" fill="#0a4d93"/>
<ellipse cx="1138.8" cy="1680.0" rx="4.1" ry="3.5" fill="#1c6fd0"/>
<ellipse cx="1224.7" cy="1675.8" rx="9.4" ry="8.2" fill="#0a4d93"/>
<ellipse cx="1224.7" cy="1675.8" rx="4.7" ry="3.5" fill="#1c6fd0"/>
<ellipse cx="1345.9" cy="1671.1" rx="9.4" ry="8.2" fill="#0a4d93"/>
<ellipse cx="1345.9" cy="1671.1" rx="4.7" ry="3.5" fill="#1c6fd0"/>
<ellipse cx="1406.4" cy="1674.6" rx="16.0" ry="9.4" fill="#0a4d93"/>
<ellipse cx="1406.4" cy="1674.6" rx="8.0" ry="4.0" fill="#1c6fd0"/>
<ellipse cx="1491.3" cy="1677.6" rx="9.4" ry="8.5" fill="#0a4d93"/>
<ellipse cx="1491.3" cy="1677.6" rx="4.7" ry="3.6" fill="#1c6fd0"/>
<ellipse cx="1604.7" cy="1681.2" rx="8.5" ry="9.4" fill="#0a4d93"/>
<ellipse cx="1604.7" cy="1681.2" rx="4.2" ry="4.0" fill="#1c6fd0"/>
<ellipse cx="1624.2" cy="1683.5" rx="8.2" ry="9.4" fill="#0a4d93"/>
<ellipse cx="1624.2" cy="1683.5" rx="4.1" ry="4.0" fill="#1c6fd0"/>
<ellipse cx="1639.3" cy="1683.5" rx="8.9" ry="9.4" fill="#0a4d93"/>
<ellipse cx="1639.3" cy="1683.5" rx="4.5" ry="4.0" fill="#1c6fd0"/>
<path d="M319.3,1711.8 Q320,1725.4 331,1725.4 L953,1725.4 Q965,1726 967,1740 Q969,1726 981,1725.4 L1622,1725.4 Q1633,1725.4 1633.6,1711.8" stroke="#1f6fc6" stroke-width="2.6" fill="none"/>
<text x="1018.5" y="1806.4" font-family="Liberation Serif" font-size="61.5" font-weight="normal" font-style="normal" text-anchor="middle" fill="#000" textLength="722.0" lengthAdjust="spacing" >GABA D-type motor neurons</text>
<defs><filter id="gl" x="-50%" y="-50%" width="200%" height="200%"><feGaussianBlur stdDeviation="1.6"/></filter><filter id="gl2" x="-50%" y="-50%" width="200%" height="200%"><feGaussianBlur stdDeviation="0.7"/></filter><clipPath id="cp1"><rect x="25" y="1888" width="780" height="613.5"/></clipPath><clipPath id="cp2"><rect x="848" y="1888" width="614" height="611.5"/></clipPath><clipPath id="cp3"><rect x="1506" y="1888" width="604" height="611.5"/></clipPath></defs>
<rect x="25.0" y="1888.0" width="780.0" height="613.5" fill="#000" />
<g clip-path="url(#cp1)">
<path d="M91.5,1945.2 L97.8,1966.2 L105.2,1993.5 L112.5,2029.2 L117.8,2050.2 L123.0,2067.1 L126.2,2098.6 L128.3,2121.7 L127.2,2151.1 L128.3,2182.6 L130.4,2200.0 L133.5,2221.0 L139.8,2242.0 L148.2,2267.2 L158.7,2292.4 L171.3,2315.5 L186.0,2336.6 L205.0,2359.7 L228.1,2382.8 L253.3,2401.7 L280.6,2416.4 L307.9,2425.2 L333.1,2427.9 L354.1,2426.5 L375.1,2420.6 L396.1,2410.1 L421.3,2395.4 L446.5,2378.6 L467.6,2361.8 L484.4,2342.9 L499.1,2319.7 L507.5,2294.5 L512.7,2267.2 L514.8,2242.0 L513.4,2218.9 L501.2,2182.6 L490.7,2151.1 L478.1,2125.9 L463.4,2102.8 L425.5,2120.6 L431.8,2136.4 L438.1,2155.3 L444.4,2172.1 L448.6,2193.1 L452.8,2200.0 L456.0,2225.2 L457.1,2246.2 L452.8,2263.0 L444.4,2277.7 L433.9,2294.5 L423.4,2309.2 L408.7,2321.8 L391.9,2334.5 L375.1,2345.0 L358.3,2350.2 L339.4,2354.4 L322.6,2354.4 L305.8,2349.2 L289.0,2338.7 L272.2,2323.9 L257.5,2307.1 L244.9,2288.2 L234.4,2269.3 L226.0,2248.3 L215.5,2221.0 L210.2,2200.0 L208.1,2188.9 L206.0,2161.6 L205.0,2130.1 L201.8,2104.9 L198.7,2079.7 L194.5,2054.5 L188.1,2029.2 L183.9,2008.2 L177.6,1983.0 L169.2,1962.0 Z" fill="#010501" filter="url(#b3)"/>
<g filter="url(#gl2)">
<path d="M91.5,1945.2C92.6,1948.7 95.5,1958.2 97.8,1966.2C100.1,1974.3 102.7,1983.0 105.2,1993.5C107.6,2004.0 110.4,2019.8 112.5,2029.2C114.6,2038.7 116.0,2043.9 117.8,2050.2C119.5,2056.6 121.6,2059.0 123.0,2067.1C124.4,2075.1 125.3,2089.5 126.2,2098.6C127.1,2107.7 128.1,2112.9 128.3,2121.7C128.5,2130.4 127.2,2140.9 127.2,2151.1C127.2,2161.2 127.8,2174.4 128.3,2182.6C128.8,2190.8 129.5,2193.6 130.4,2200.0C131.3,2206.4 132.0,2214.0 133.5,2221.0C135.1,2228.0 137.4,2234.3 139.8,2242.0C142.3,2249.7 145.1,2258.8 148.2,2267.2C151.4,2275.6 154.9,2284.4 158.7,2292.4C162.6,2300.5 166.8,2308.2 171.3,2315.5C175.9,2322.9 180.4,2329.2 186.0,2336.6C191.7,2343.9 198.0,2352.0 205.0,2359.7C212.0,2367.4 220.0,2375.8 228.1,2382.8C236.1,2389.8 244.5,2396.1 253.3,2401.7C262.0,2407.3 271.5,2412.5 280.6,2416.4C289.7,2420.3 299.1,2423.3 307.9,2425.2C316.6,2427.1 325.4,2427.7 333.1,2427.9C340.8,2428.1 347.1,2427.7 354.1,2426.5C361.1,2425.2 368.1,2423.3 375.1,2420.6C382.1,2417.9 388.4,2414.3 396.1,2410.1C403.8,2405.9 412.9,2400.6 421.3,2395.4C429.7,2390.1 438.8,2384.2 446.5,2378.6C454.3,2373.0 461.3,2367.7 467.6,2361.8C473.9,2355.8 479.1,2349.9 484.4,2342.9C489.6,2335.9 495.2,2327.8 499.1,2319.7C502.9,2311.7 505.2,2303.3 507.5,2294.5C509.7,2285.8 511.5,2276.0 512.7,2267.2C513.9,2258.5 514.7,2250.1 514.8,2242.0C514.9,2234.0 515.6,2228.8 513.4,2218.9C511.1,2209.0 504.9,2193.9 501.2,2182.6C497.4,2171.3 494.5,2160.5 490.7,2151.1C486.8,2141.6 482.6,2133.9 478.1,2125.9C473.5,2117.8 465.8,2106.6 463.4,2102.8" stroke="#085008" stroke-width="3.0" fill="none"/>
<path d="M169.2,1962.0C170.6,1965.5 175.2,1975.3 177.6,1983.0C180.1,1990.7 182.2,2000.5 183.9,2008.2C185.7,2015.9 186.4,2021.5 188.1,2029.2C189.9,2036.9 192.7,2046.0 194.5,2054.5C196.2,2062.9 197.4,2071.3 198.7,2079.7C199.9,2088.1 200.8,2096.5 201.8,2104.9C202.9,2113.3 204.3,2120.6 205.0,2130.1C205.7,2139.5 205.5,2151.8 206.0,2161.6C206.5,2171.4 207.4,2182.5 208.1,2188.9C208.8,2195.3 209.0,2194.6 210.2,2200.0C211.4,2205.4 212.8,2213.0 215.5,2221.0C218.1,2229.1 222.8,2240.3 226.0,2248.3C229.1,2256.4 231.2,2262.7 234.4,2269.3C237.5,2276.0 241.0,2281.9 244.9,2288.2C248.7,2294.5 252.9,2301.2 257.5,2307.1C262.0,2313.1 266.9,2318.7 272.2,2323.9C277.4,2329.2 283.4,2334.5 289.0,2338.7C294.6,2342.9 300.2,2346.5 305.8,2349.2C311.4,2351.8 317.0,2353.5 322.6,2354.4C328.2,2355.3 333.5,2355.1 339.4,2354.4C345.4,2353.7 352.4,2351.8 358.3,2350.2C364.3,2348.6 369.5,2347.6 375.1,2345.0C380.7,2342.3 386.3,2338.3 391.9,2334.5C397.5,2330.6 403.5,2326.0 408.7,2321.8C414.0,2317.6 419.2,2313.8 423.4,2309.2C427.6,2304.7 430.4,2299.8 433.9,2294.5C437.4,2289.3 441.3,2283.0 444.4,2277.7C447.6,2272.5 450.7,2268.3 452.8,2263.0C455.0,2257.8 456.5,2252.5 457.1,2246.2C457.6,2239.9 456.7,2232.9 456.0,2225.2C455.3,2217.5 454.1,2205.4 452.8,2200.0C451.6,2194.6 450.0,2197.8 448.6,2193.1C447.2,2188.5 446.2,2178.4 444.4,2172.1C442.7,2165.8 440.2,2161.2 438.1,2155.3C436.0,2149.3 433.9,2142.2 431.8,2136.4C429.7,2130.6 426.6,2123.3 425.5,2120.6" stroke="#0c6a0c" stroke-width="3.6" fill="none"/>
</g>
<path d="M91.5,1945.2C92.6,1948.7 95.5,1958.2 97.8,1966.2C100.1,1974.3 102.7,1983.0 105.2,1993.5C107.6,2004.0 110.4,2019.8 112.5,2029.2C114.6,2038.7 116.0,2043.9 117.8,2050.2C119.5,2056.6 121.6,2059.0 123.0,2067.1C124.4,2075.1 125.3,2089.5 126.2,2098.6C127.1,2107.7 128.1,2112.9 128.3,2121.7C128.5,2130.4 127.2,2140.9 127.2,2151.1C127.2,2161.2 127.8,2174.4 128.3,2182.6C128.8,2190.8 129.5,2193.6 130.4,2200.0C131.3,2206.4 132.0,2214.0 133.5,2221.0C135.1,2228.0 137.4,2234.3 139.8,2242.0C142.3,2249.7 145.1,2258.8 148.2,2267.2C151.4,2275.6 154.9,2284.4 158.7,2292.4C162.6,2300.5 166.8,2308.2 171.3,2315.5C175.9,2322.9 180.4,2329.2 186.0,2336.6C191.7,2343.9 198.0,2352.0 205.0,2359.7C212.0,2367.4 220.0,2375.8 228.1,2382.8C236.1,2389.8 244.5,2396.1 253.3,2401.7C262.0,2407.3 271.5,2412.5 280.6,2416.4C289.7,2420.3 299.1,2423.3 307.9,2425.2C316.6,2427.1 325.4,2427.7 333.1,2427.9C340.8,2428.1 347.1,2427.7 354.1,2426.5C361.1,2425.2 368.1,2423.3 375.1,2420.6C382.1,2417.9 388.4,2414.3 396.1,2410.1C403.8,2405.9 412.9,2400.6 421.3,2395.4C429.7,2390.1 438.8,2384.2 446.5,2378.6C454.3,2373.0 461.3,2367.7 467.6,2361.8C473.9,2355.8 479.1,2349.9 484.4,2342.9C489.6,2335.9 495.2,2327.8 499.1,2319.7C502.9,2311.7 505.2,2303.3 507.5,2294.5C509.7,2285.8 511.5,2276.0 512.7,2267.2C513.9,2258.5 514.7,2250.1 514.8,2242.0C514.9,2234.0 515.6,2228.8 513.4,2218.9C511.1,2209.0 504.9,2193.9 501.2,2182.6C497.4,2171.3 494.5,2160.5 490.7,2151.1C486.8,2141.6 482.6,2133.9 478.1,2125.9C473.5,2117.8 465.8,2106.6 463.4,2102.8" stroke="#117a11" stroke-width="1.0" fill="none"/>
<path d="M126.2,2098.6C126.5,2102.4 128.1,2112.9 128.3,2121.7C128.5,2130.4 127.2,2140.9 127.2,2151.1C127.2,2161.2 127.8,2174.4 128.3,2182.6C128.8,2190.8 129.5,2193.6 130.4,2200.0C131.3,2206.4 132.0,2214.0 133.5,2221.0C135.1,2228.0 137.4,2234.3 139.8,2242.0C142.3,2249.7 145.1,2258.8 148.2,2267.2C151.4,2275.6 154.9,2284.4 158.7,2292.4C162.6,2300.5 166.8,2308.2 171.3,2315.5C175.9,2322.9 180.4,2329.2 186.0,2336.6C191.7,2343.9 198.0,2352.0 205.0,2359.7C212.0,2367.4 220.0,2375.8 228.1,2382.8C236.1,2389.8 244.5,2396.1 253.3,2401.7C262.0,2407.3 271.5,2412.5 280.6,2416.4C289.7,2420.3 299.1,2423.3 307.9,2425.2C316.6,2427.1 325.4,2427.7 333.1,2427.9C340.8,2428.1 347.1,2427.7 354.1,2426.5C361.1,2425.2 368.1,2423.3 375.1,2420.6C382.1,2417.9 388.4,2414.3 396.1,2410.1C403.8,2405.9 412.9,2400.6 421.3,2395.4C429.7,2390.1 438.8,2384.2 446.5,2378.6C454.3,2373.0 461.3,2367.7 467.6,2361.8C473.9,2355.8 479.1,2349.9 484.4,2342.9C489.6,2335.9 495.2,2327.8 499.1,2319.7C502.9,2311.7 506.1,2298.7 507.5,2294.5" stroke="#1fc41f" stroke-width="1.2" fill="none"/>
<path d="M169.2,1962.0C170.6,1965.5 175.2,1975.3 177.6,1983.0C180.1,1990.7 182.2,2000.5 183.9,2008.2C185.7,2015.9 186.4,2021.5 188.1,2029.2C189.9,2036.9 192.7,2046.0 194.5,2054.5C196.2,2062.9 197.4,2071.3 198.7,2079.7C199.9,2088.1 200.8,2096.5 201.8,2104.9C202.9,2113.3 204.3,2120.6 205.0,2130.1C205.7,2139.5 205.5,2151.8 206.0,2161.6C206.5,2171.4 207.4,2182.5 208.1,2188.9C208.8,2195.3 209.0,2194.6 210.2,2200.0C211.4,2205.4 212.8,2213.0 215.5,2221.0C218.1,2229.1 222.8,2240.3 226.0,2248.3C229.1,2256.4 231.2,2262.7 234.4,2269.3C237.5,2276.0 241.0,2281.9 244.9,2288.2C248.7,2294.5 252.9,2301.2 257.5,2307.1C262.0,2313.1 266.9,2318.7 272.2,2323.9C277.4,2329.2 283.4,2334.5 289.0,2338.7C294.6,2342.9 300.2,2346.5 305.8,2349.2C311.4,2351.8 317.0,2353.5 322.6,2354.4C328.2,2355.3 333.5,2355.1 339.4,2354.4C345.4,2353.7 352.4,2351.8 358.3,2350.2C364.3,2348.6 369.5,2347.6 375.1,2345.0C380.7,2342.3 386.3,2338.3 391.9,2334.5C397.5,2330.6 403.5,2326.0 408.7,2321.8C414.0,2317.6 419.2,2313.8 423.4,2309.2C427.6,2304.7 430.4,2299.8 433.9,2294.5C437.4,2289.3 441.3,2283.0 444.4,2277.7C447.6,2272.5 450.7,2268.3 452.8,2263.0C455.0,2257.8 456.5,2252.5 457.1,2246.2C457.6,2239.9 456.7,2232.9 456.0,2225.2C455.3,2217.5 454.1,2205.4 452.8,2200.0C451.6,2194.6 450.0,2197.8 448.6,2193.1C447.2,2188.5 446.2,2178.4 444.4,2172.1C442.7,2165.8 440.2,2161.2 438.1,2155.3C436.0,2149.3 433.9,2142.2 431.8,2136.4C429.7,2130.6 426.6,2123.3 425.5,2120.6" stroke="#2aea2a" stroke-width="1.5" fill="none"/>
<path d="M91.5,1945.2C93.3,1947.0 98.2,1954.3 102.0,1955.7C105.9,1957.1 110.1,1955.4 114.6,1953.6C119.2,1951.9 124.4,1946.3 129.3,1945.2C134.2,1944.2 139.1,1946.3 144.0,1947.3C148.9,1948.4 154.5,1949.1 158.7,1951.5C162.9,1954.0 167.5,1960.3 169.2,1962.0" stroke="#158a15" stroke-width="1" fill="none"/>
<path d="M105.2,1989.3C108.1,1988.3 114.8,1983.4 123.0,1983.0C131.3,1982.7 149.3,1986.5 154.5,1987.2" stroke="#157f15" stroke-width="1.1" fill="none"/>
<path d="M99.9,1972.5C102.4,1972.9 110.8,1975.0 114.6,1974.6C118.5,1974.3 121.6,1971.1 123.0,1970.4" stroke="#157f15" stroke-width="1.1" fill="none"/>
<path d="M123.0,2059.7C126.5,2059.4 136.3,2058.5 144.0,2057.6C151.7,2056.7 162.2,2055.3 169.2,2054.5C176.2,2053.6 183.2,2052.7 186.0,2052.4" stroke="#157f15" stroke-width="1.1" fill="none"/>
<path d="M126.2,2097.5C130.2,2097.0 143.2,2094.2 150.3,2094.4C157.5,2094.5 164.7,2099.3 169.2,2098.6C173.8,2097.9 172.0,2091.2 177.6,2090.2C183.2,2089.1 198.7,2091.9 202.9,2092.3" stroke="#157f15" stroke-width="1.1" fill="none"/>
<path d="M130.4,2133.2C134.4,2131.8 146.7,2127.1 154.5,2124.8C162.4,2122.6 170.6,2121.9 177.6,2119.6C184.6,2117.3 193.4,2112.6 196.6,2111.2" stroke="#157f15" stroke-width="1.1" fill="none"/>
<path d="M135.6,2220.0C139.5,2218.9 153.1,2212.8 158.7,2213.7C164.3,2214.5 164.7,2225.4 169.2,2225.2C173.8,2225.0 182.5,2216.5 186.0,2212.6C189.5,2208.8 186.0,2204.0 190.2,2202.1C194.5,2200.2 207.8,2201.2 211.3,2201.1" stroke="#157f15" stroke-width="1.1" fill="none"/>
<path d="M140.9,2244.1C144.2,2242.4 154.7,2233.6 160.8,2233.6C167.0,2233.6 171.3,2244.1 177.6,2244.1C183.9,2244.1 192.4,2235.7 198.7,2233.6C205.0,2231.5 212.7,2231.9 215.5,2231.5" stroke="#157f15" stroke-width="1.1" fill="none"/>
<path d="M168.2,2310.3C171.9,2309.1 184.5,2307.3 190.2,2302.9C196.0,2298.6 198.7,2289.6 202.9,2284.0C207.1,2278.4 211.3,2272.8 215.5,2269.3C219.7,2265.8 226.0,2264.1 228.1,2263.0" stroke="#157f15" stroke-width="1.1" fill="none"/>
<path d="M230.2,2387.0C233.3,2383.5 245.2,2372.6 249.1,2366.0C252.9,2359.3 251.9,2353.0 253.3,2347.1C254.7,2341.1 256.1,2334.1 257.5,2330.2C258.9,2326.4 261.0,2325.0 261.7,2323.9" stroke="#157f15" stroke-width="1.1" fill="none"/>
<path d="M283.7,2417.4C284.4,2414.8 285.8,2405.5 287.9,2401.7C290.0,2397.8 294.9,2395.5 296.3,2394.3" stroke="#157f15" stroke-width="1.1" fill="none"/>
<path d="M300.5,2420.6C300.9,2417.8 300.4,2406.9 302.6,2403.8C304.9,2400.6 312.3,2402.0 314.2,2401.7" stroke="#157f15" stroke-width="1.1" fill="none"/>
<path d="M377.2,2419.5C376.7,2416.6 373.0,2407.5 374.1,2401.7C375.1,2395.9 384.0,2390.5 383.5,2384.9C383.0,2379.3 375.1,2371.9 370.9,2368.1C366.7,2364.2 360.4,2362.8 358.3,2361.8" stroke="#157f15" stroke-width="1.1" fill="none"/>
<path d="M461.3,2368.1C459.9,2365.6 453.2,2358.1 452.8,2353.4C452.5,2348.6 456.5,2344.3 459.2,2339.7C461.8,2335.2 467.0,2328.3 468.6,2326.0" stroke="#157f15" stroke-width="1.1" fill="none"/>
<path d="M499.1,2309.2C497.7,2307.8 492.2,2305.0 490.7,2300.8C489.1,2296.6 489.8,2286.8 489.6,2284.0" stroke="#157f15" stroke-width="1.1" fill="none"/>
<path d="M404.5,2326.0C407.3,2327.8 416.4,2334.6 421.3,2336.6C426.2,2338.5 431.8,2337.4 433.9,2337.6" stroke="#157f15" stroke-width="1.1" fill="none"/>
<path d="M459.2,2221.0C463.4,2218.6 477.0,2207.2 484.4,2206.3C491.7,2205.4 500.1,2214.2 503.3,2215.8" stroke="#157f15" stroke-width="1.1" fill="none"/>
<path d="M452.8,2191.0C456.4,2186.8 466.2,2167.2 473.9,2165.8C481.6,2164.4 494.9,2179.8 499.1,2182.6" stroke="#157f15" stroke-width="1.1" fill="none"/>
<path d="M286.9,2366.0C287.4,2363.5 289.0,2354.8 290.0,2351.3C291.1,2347.8 292.7,2346.0 293.2,2345.0" stroke="#157f15" stroke-width="1.1" fill="none"/>
<g filter="url(#gl)">
<ellipse cx="110.4" cy="1947.3" rx="10.0" ry="7.9" fill="#0e800e"/>
<ellipse cx="138.8" cy="1942.1" rx="7.5" ry="8.6" fill="#0e800e"/>
<ellipse cx="150.3" cy="1948.4" rx="6.5" ry="4.1" fill="#0e800e"/>
<ellipse cx="158.7" cy="1958.9" rx="3.7" ry="3.7" fill="#0e800e"/>
<ellipse cx="114.2" cy="1968.3" rx="3.3" ry="4.1" fill="#0e800e"/>
<ellipse cx="164.0" cy="1980.9" rx="3.7" ry="4.1" fill="#0e800e"/>
<ellipse cx="172.4" cy="1992.5" rx="2.9" ry="4.1" fill="#0e800e"/>
<ellipse cx="118.8" cy="2054.5" rx="3.9" ry="10.7" fill="#0e800e"/>
<ellipse cx="123.0" cy="2079.7" rx="2.9" ry="6.5" fill="#0e800e"/>
<ellipse cx="128.9" cy="2115.4" rx="2.9" ry="5.4" fill="#0e800e"/>
<ellipse cx="187.1" cy="2034.5" rx="3.7" ry="8.6" fill="#0e800e"/>
<ellipse cx="191.3" cy="2050.2" rx="5.0" ry="6.5" fill="#0e800e"/>
<ellipse cx="194.5" cy="2065.0" rx="5.4" ry="5.4" fill="#0e800e"/>
<ellipse cx="195.5" cy="2079.7" rx="4.4" ry="7.5" fill="#0e800e"/>
<ellipse cx="199.7" cy="2107.0" rx="5.0" ry="6.5" fill="#0e800e"/>
<ellipse cx="203.9" cy="2116.4" rx="3.3" ry="3.7" fill="#0e800e"/>
<ellipse cx="204.5" cy="2175.2" rx="4.4" ry="5.0" fill="#0e800e"/>
<ellipse cx="171.3" cy="2063.9" rx="2.5" ry="3.3" fill="#0e800e"/>
<ellipse cx="186.7" cy="2074.8" rx="2.5" ry="2.5" fill="#0e800e"/>
<ellipse cx="360.8" cy="2055.5" rx="2.3" ry="2.3" fill="#0e800e"/>
<ellipse cx="397.8" cy="2074.8" rx="2.3" ry="2.9" fill="#0e800e"/>
<ellipse cx="448.6" cy="2129.0" rx="2.7" ry="2.7" fill="#0e800e"/>
<ellipse cx="431.4" cy="2135.3" rx="4.4" ry="8.8" fill="#0e800e"/>
<ellipse cx="439.2" cy="2156.3" rx="3.7" ry="5.4" fill="#0e800e"/>
<ellipse cx="444.0" cy="2167.9" rx="3.7" ry="8.8" fill="#0e800e"/>
<ellipse cx="447.6" cy="2191.0" rx="2.9" ry="6.5" fill="#0e800e"/>
<ellipse cx="186.7" cy="2210.5" rx="4.1" ry="4.6" fill="#0e800e"/>
<ellipse cx="210.2" cy="2208.4" rx="3.7" ry="7.1" fill="#0e800e"/>
<ellipse cx="214.4" cy="2227.3" rx="3.3" ry="6.5" fill="#0e800e"/>
<ellipse cx="216.5" cy="2237.8" rx="3.7" ry="3.7" fill="#0e800e"/>
<ellipse cx="229.7" cy="2264.1" rx="5.4" ry="6.5" fill="#0e800e"/>
<ellipse cx="255.0" cy="2311.3" rx="5.0" ry="5.0" fill="#0e800e"/>
<ellipse cx="260.6" cy="2323.3" rx="4.6" ry="4.6" fill="#0e800e"/>
<ellipse cx="293.2" cy="2345.0" rx="5.4" ry="5.4" fill="#0e800e"/>
<ellipse cx="238.6" cy="2307.1" rx="2.9" ry="2.9" fill="#0e800e"/>
<ellipse cx="237.5" cy="2288.2" rx="2.5" ry="2.5" fill="#0e800e"/>
<ellipse cx="357.3" cy="2360.7" rx="5.8" ry="5.0" fill="#0e800e"/>
<ellipse cx="365.7" cy="2352.3" rx="6.5" ry="3.3" fill="#0e800e"/>
<ellipse cx="379.3" cy="2348.1" rx="5.8" ry="4.1" fill="#0e800e"/>
<ellipse cx="401.4" cy="2335.1" rx="3.9" ry="3.9" fill="#0e800e"/>
<ellipse cx="422.4" cy="2315.5" rx="5.4" ry="4.1" fill="#0e800e"/>
<ellipse cx="427.6" cy="2310.3" rx="3.7" ry="3.7" fill="#0e800e"/>
<ellipse cx="446.1" cy="2286.1" rx="4.4" ry="5.0" fill="#0e800e"/>
<ellipse cx="455.0" cy="2269.3" rx="3.7" ry="6.5" fill="#0e800e"/>
<ellipse cx="458.1" cy="2212.6" rx="4.1" ry="7.5" fill="#0e800e"/>
<ellipse cx="489.6" cy="2283.0" rx="2.9" ry="4.1" fill="#0e800e"/>
<ellipse cx="460.6" cy="2338.7" rx="3.7" ry="4.6" fill="#0e800e"/>
<ellipse cx="432.9" cy="2337.6" rx="3.7" ry="2.9" fill="#0e800e"/>
<ellipse cx="365.7" cy="2422.7" rx="6.5" ry="2.9" fill="#0e800e"/>
<ellipse cx="333.1" cy="2428.6" rx="5.0" ry="2.7" fill="#0e800e"/>
<ellipse cx="430.8" cy="2392.2" rx="2.9" ry="2.9" fill="#0e800e"/>
<ellipse cx="398.2" cy="2401.0" rx="2.7" ry="2.7" fill="#0e800e"/>
<ellipse cx="314.2" cy="2402.1" rx="2.5" ry="2.5" fill="#0e800e"/>
<ellipse cx="134.6" cy="2225.2" rx="2.9" ry="4.1" fill="#0e800e"/>
<ellipse cx="452.4" cy="2345.0" rx="2.7" ry="4.1" fill="#0e800e"/>
<ellipse cx="468.6" cy="2327.1" rx="2.5" ry="3.3" fill="#0e800e"/>
</g>
<ellipse cx="110.4" cy="1947.3" rx="7.8" ry="5.9" fill="#33ff33"/>
<ellipse cx="138.8" cy="1942.1" rx="5.5" ry="6.5" fill="#33ff33"/>
<ellipse cx="150.3" cy="1948.4" rx="4.6" ry="2.6" fill="#33ff33"/>
<ellipse cx="158.7" cy="1958.9" rx="2.2" ry="2.2" fill="#33ff33"/>
<ellipse cx="114.2" cy="1968.3" rx="1.8" ry="2.6" fill="#33ff33"/>
<ellipse cx="164.0" cy="1980.9" rx="2.2" ry="2.6" fill="#33ff33"/>
<ellipse cx="172.4" cy="1992.5" rx="1.5" ry="2.6" fill="#33ff33"/>
<ellipse cx="118.8" cy="2054.5" rx="2.4" ry="8.3" fill="#33ff33"/>
<ellipse cx="123.0" cy="2079.7" rx="1.5" ry="4.6" fill="#33ff33"/>
<ellipse cx="128.9" cy="2115.4" rx="1.5" ry="3.7" fill="#33ff33"/>
<ellipse cx="187.1" cy="2034.5" rx="2.2" ry="6.5" fill="#33ff33"/>
<ellipse cx="191.3" cy="2050.2" rx="3.3" ry="4.6" fill="#33ff33"/>
<ellipse cx="194.5" cy="2065.0" rx="3.7" ry="3.7" fill="#33ff33"/>
<ellipse cx="195.5" cy="2079.7" rx="2.8" ry="5.5" fill="#33ff33"/>
<ellipse cx="199.7" cy="2107.0" rx="3.3" ry="4.6" fill="#33ff33"/>
<ellipse cx="203.9" cy="2116.4" rx="1.8" ry="2.2" fill="#33ff33"/>
<ellipse cx="204.5" cy="2175.2" rx="2.8" ry="3.3" fill="#33ff33"/>
<ellipse cx="171.3" cy="2063.9" rx="1.1" ry="1.8" fill="#33ff33"/>
<ellipse cx="186.7" cy="2074.8" rx="1.1" ry="1.1" fill="#33ff33"/>
<ellipse cx="360.8" cy="2055.5" rx="1.1" ry="1.1" fill="#33ff33"/>
<ellipse cx="397.8" cy="2074.8" rx="1.1" ry="1.5" fill="#33ff33"/>
<ellipse cx="448.6" cy="2129.0" rx="1.3" ry="1.3" fill="#33ff33"/>
<ellipse cx="431.4" cy="2135.3" rx="2.8" ry="6.7" fill="#33ff33"/>
<ellipse cx="439.2" cy="2156.3" rx="2.2" ry="3.7" fill="#33ff33"/>
<ellipse cx="444.0" cy="2167.9" rx="2.2" ry="6.7" fill="#33ff33"/>
<ellipse cx="447.6" cy="2191.0" rx="1.5" ry="4.6" fill="#33ff33"/>
<ellipse cx="186.7" cy="2210.5" rx="2.6" ry="3.0" fill="#33ff33"/>
<ellipse cx="210.2" cy="2208.4" rx="2.2" ry="5.2" fill="#33ff33"/>
<ellipse cx="214.4" cy="2227.3" rx="1.8" ry="4.6" fill="#33ff33"/>
<ellipse cx="216.5" cy="2237.8" rx="2.2" ry="2.2" fill="#33ff33"/>
<ellipse cx="229.7" cy="2264.1" rx="3.7" ry="4.6" fill="#33ff33"/>
<ellipse cx="255.0" cy="2311.3" rx="3.3" ry="3.3" fill="#33ff33"/>
<ellipse cx="260.6" cy="2323.3" rx="3.0" ry="3.0" fill="#33ff33"/>
<ellipse cx="293.2" cy="2345.0" rx="3.7" ry="3.7" fill="#33ff33"/>
<ellipse cx="238.6" cy="2307.1" rx="1.5" ry="1.5" fill="#33ff33"/>
<ellipse cx="237.5" cy="2288.2" rx="1.1" ry="1.1" fill="#33ff33"/>
<ellipse cx="357.3" cy="2360.7" rx="4.1" ry="3.3" fill="#33ff33"/>
<ellipse cx="365.7" cy="2352.3" rx="4.6" ry="1.8" fill="#33ff33"/>
<ellipse cx="379.3" cy="2348.1" rx="4.1" ry="2.6" fill="#33ff33"/>
<ellipse cx="401.4" cy="2335.1" rx="2.4" ry="2.4" fill="#33ff33"/>
<ellipse cx="422.4" cy="2315.5" rx="3.7" ry="2.6" fill="#33ff33"/>
<ellipse cx="427.6" cy="2310.3" rx="2.2" ry="2.2" fill="#33ff33"/>
<ellipse cx="446.1" cy="2286.1" rx="2.8" ry="3.3" fill="#33ff33"/>
<ellipse cx="455.0" cy="2269.3" rx="2.2" ry="4.6" fill="#33ff33"/>
<ellipse cx="458.1" cy="2212.6" rx="2.6" ry="5.5" fill="#33ff33"/>
<ellipse cx="489.6" cy="2283.0" rx="1.5" ry="2.6" fill="#33ff33"/>
<ellipse cx="460.6" cy="2338.7" rx="2.2" ry="3.0" fill="#33ff33"/>
<ellipse cx="432.9" cy="2337.6" rx="2.2" ry="1.5" fill="#33ff33"/>
<ellipse cx="365.7" cy="2422.7" rx="4.6" ry="1.5" fill="#33ff33"/>
<ellipse cx="333.1" cy="2428.6" rx="3.3" ry="1.3" fill="#33ff33"/>
<ellipse cx="430.8" cy="2392.2" rx="1.5" ry="1.5" fill="#33ff33"/>
<ellipse cx="398.2" cy="2401.0" rx="1.3" ry="1.3" fill="#33ff33"/>
<ellipse cx="314.2" cy="2402.1" rx="1.1" ry="1.1" fill="#33ff33"/>
<ellipse cx="134.6" cy="2225.2" rx="1.5" ry="2.6" fill="#33ff33"/>
<ellipse cx="452.4" cy="2345.0" rx="1.3" ry="2.6" fill="#33ff33"/>
<ellipse cx="468.6" cy="2327.1" rx="1.1" ry="1.8" fill="#33ff33"/>
</g>
<rect x="584.3" y="2464.9" width="199.9" height="6.6" fill="#fff" />
<text x="684" y="2496.2" font-family="Liberation Sans" font-size="21.5" fill="#eee" text-anchor="middle" textLength="77" lengthAdjust="spacing">150 µm</text>
<defs><filter id="grain" x="0" y="0" width="100%" height="100%"><feTurbulence type="fractalNoise" baseFrequency="0.55" numOctaves="2" seed="7"/><feColorMatrix type="matrix" values="0 0 0 0 1  0 0 0 0 1  0 0 0 0 1  1.6 0 0 0 -0.55"/><feComposite operator="in" in2="SourceGraphic"/></filter><filter id="grainc" x="0" y="0" width="100%" height="100%"><feTurbulence type="fractalNoise" baseFrequency="0.16" numOctaves="3" seed="11"/><feColorMatrix type="matrix" values="0 0 0 0 1  0 0 0 0 1  0 0 0 0 1  2.2 0 0 0 -0.85"/><feComposite operator="in" in2="SourceGraphic"/></filter><filter id="graind" x="0" y="0" width="100%" height="100%"><feTurbulence type="fractalNoise" baseFrequency="0.2" numOctaves="3" seed="5"/><feColorMatrix type="matrix" values="0 0 0 0 0  0 0 0 0 0  0 0 0 0 0  2.2 0 0 0 -0.85"/><feComposite operator="in" in2="SourceGraphic"/></filter><filter id="b3" x="-20%" y="-20%" width="140%" height="140%"><feGaussianBlur stdDeviation="3"/></filter><filter id="b1" x="-20%" y="-20%" width="140%" height="140%"><feGaussianBlur stdDeviation="1"/></filter><filter id="b8" x="-30%" y="-30%" width="160%" height="160%"><feGaussianBlur stdDeviation="9"/></filter><linearGradient id="p2g" x1="1" y1="0" x2="0.1" y2="1"><stop offset="0" stop-color="#0f0f0f"/><stop offset="0.45" stop-color="#1b1b1b"/><stop offset="1" stop-color="#2b2b2b"/></linearGradient><linearGradient id="p3g" x1="0" y1="0" x2="0.15" y2="1"><stop offset="0" stop-color="#1c1c1c"/><stop offset="0.3" stop-color="#2a2a2a"/><stop offset="1" stop-color="#262626"/></linearGradient></defs>
<g clip-path="url(#cp2)">
<rect x="848.0" y="1888.0" width="614.0" height="611.5" fill="#040404" />
<path d="M848.2,2018.7 L967.0,2038.5 L1081.9,2051.2 L1204.7,2034.6 L1323.6,2006.8 L1462.2,1970.4 L1462.2,2302.0 L1323.6,2335.6 L1204.7,2359.4 L1085.9,2379.2 L955.2,2390.3 L848.2,2385.1 Z" fill="#0b0b0b" />
<mask id="m2" maskUnits="userSpaceOnUse" x="840" y="1880" width="630" height="630"><path d="M824.4,2107.9 L848.2,2107.9 L907.6,2125.7 L963.1,2143.5 L984.9,2148.7 L1014.6,2163.3 L1046.3,2181.1 L1070.0,2193.0 L1081.9,2195.0 L1101.7,2189.1 L1125.5,2177.2 L1143.3,2171.2 L1165.1,2161.3 L1188.9,2153.4 L1216.6,2145.5 L1248.3,2137.6 L1283.9,2131.6 L1323.6,2120.9 L1363.2,2109.8 L1402.8,2099.9 L1462.2,2086.1 L1486.0,2086.1 L1486.0,2521.8 L824.4,2521.8 Z" fill="#fff" filter="url(#b8)"/></mask>
<g mask="url(#m2)">
<rect x="848.0" y="1888.0" width="614.0" height="612.0" fill="#131313" />
<rect x="848" y="1888" width="614" height="612" fill="#fff" filter="url(#grainc)" opacity="0.075"/>
<rect x="848" y="1888" width="614" height="612" fill="#000" filter="url(#graind)" opacity="0.45"/>
</g>
<path d="M848.2,2385.1 L955.2,2390.3 L1085.9,2379.2 L1204.7,2359.4 L1323.6,2335.6 L1462.2,2302.0 L1462.2,2500.0 L848.2,2500.0 Z" fill="url(#p2g)" />
<path d="M848.2,2379.6C866.0,2380.5 915.5,2385.7 955.2,2384.7C994.8,2383.8 1044.3,2378.8 1085.9,2373.7C1127.5,2368.5 1165.1,2361.1 1204.7,2353.8C1244.3,2346.6 1280.6,2339.7 1323.6,2330.1C1366.5,2320.5 1439.1,2302.0 1462.2,2296.4" stroke="#060606" stroke-width="9" fill="none" filter="url(#b3)"/>
<path d="M848.2,2387.1C866.0,2388.0 915.5,2393.3 955.2,2392.3C994.8,2391.3 1044.3,2386.3 1085.9,2381.2C1127.5,2376.0 1165.1,2368.6 1204.7,2361.4C1244.3,2354.1 1280.6,2347.2 1323.6,2337.6C1366.5,2328.0 1439.1,2309.5 1462.2,2303.9" stroke="#3a3a3a" stroke-width="2" fill="none"/>
<path d="M848.2,2018.7C868.0,2022.0 928.1,2033.1 967.0,2038.5C1006.0,2043.9 1042.3,2051.9 1081.9,2051.2C1121.5,2050.5 1164.4,2042.0 1204.7,2034.6C1245.0,2027.2 1280.6,2017.5 1323.6,2006.8C1366.5,1996.1 1439.1,1976.5 1462.2,1970.4" stroke="#343434" stroke-width="1.5" fill="none"/>
<g filter="url(#b1)">
<ellipse cx="1278.0" cy="2181.1" rx="11.9" ry="7.9" fill="none" stroke="#707070" stroke-width="1.6"/>
<ellipse cx="1278.0" cy="2181.1" rx="7.1" ry="4.8" fill="#707070" opacity="0.5"/>
<ellipse cx="1323.6" cy="2179.2" rx="8.7" ry="8.7" fill="none" stroke="#5c5c5c" stroke-width="1.6"/>
<ellipse cx="1323.6" cy="2179.2" rx="5.2" ry="5.2" fill="#5c5c5c" opacity="0.5"/>
<ellipse cx="1341.4" cy="2171.2" rx="7.1" ry="7.1" fill="none" stroke="#505050" stroke-width="1.6"/>
<ellipse cx="1341.4" cy="2171.2" rx="4.3" ry="4.3" fill="#505050" opacity="0.5"/>
<ellipse cx="1371.1" cy="2113.8" rx="7.1" ry="9.9" fill="none" stroke="#4a4a4a" stroke-width="1.6"/>
<ellipse cx="1371.1" cy="2113.8" rx="4.3" ry="5.9" fill="#4a4a4a" opacity="0.5"/>
<ellipse cx="1377.0" cy="2136.8" rx="8.7" ry="8.7" fill="none" stroke="#444" stroke-width="1.6"/>
<ellipse cx="1377.0" cy="2136.8" rx="5.2" ry="5.2" fill="#444" opacity="0.5"/>
<ellipse cx="1398.8" cy="2159.3" rx="5.5" ry="5.5" fill="none" stroke="#333" stroke-width="1.6"/>
<ellipse cx="1398.8" cy="2159.3" rx="3.3" ry="3.3" fill="#333" opacity="0.5"/>
<ellipse cx="1361.2" cy="2145.5" rx="4.0" ry="4.0" fill="none" stroke="#3a3a3a" stroke-width="1.6"/>
<ellipse cx="1361.2" cy="2145.5" rx="2.4" ry="2.4" fill="#3a3a3a" opacity="0.5"/>
<ellipse cx="1254.2" cy="2183.1" rx="5.5" ry="4.0" fill="none" stroke="#3c3c3c" stroke-width="1.6"/>
<ellipse cx="1254.2" cy="2183.1" rx="3.3" ry="2.4" fill="#3c3c3c" opacity="0.5"/>
<ellipse cx="1228.5" cy="2193.0" rx="4.0" ry="3.2" fill="none" stroke="#444" stroke-width="1.6"/>
<ellipse cx="1228.5" cy="2193.0" rx="2.4" ry="1.9" fill="#444" opacity="0.5"/>
<ellipse cx="1256.2" cy="2218.8" rx="3.2" ry="8.7" fill="none" stroke="#333" stroke-width="1.6"/>
<ellipse cx="1256.2" cy="2218.8" rx="1.9" ry="5.2" fill="#333" opacity="0.5"/>
<ellipse cx="1268.1" cy="2244.5" rx="3.2" ry="5.5" fill="none" stroke="#3a3a3a" stroke-width="1.6"/>
<ellipse cx="1268.1" cy="2244.5" rx="1.9" ry="3.3" fill="#3a3a3a" opacity="0.5"/>
<ellipse cx="1295.8" cy="2058.3" rx="6.3" ry="8.7" fill="none" stroke="#2a2a2a" stroke-width="1.6"/>
<ellipse cx="1295.8" cy="2058.3" rx="3.8" ry="5.2" fill="#2a2a2a" opacity="0.5"/>
<ellipse cx="1315.6" cy="2129.6" rx="4.8" ry="6.3" fill="none" stroke="#2c2c2c" stroke-width="1.6"/>
<ellipse cx="1315.6" cy="2129.6" rx="2.9" ry="3.8" fill="#2c2c2c" opacity="0.5"/>
<ellipse cx="1282.0" cy="2141.5" rx="3.2" ry="15.8" fill="none" stroke="#2a2a2a" stroke-width="1.6"/>
<ellipse cx="1282.0" cy="2141.5" rx="1.9" ry="9.5" fill="#2a2a2a" opacity="0.5"/>
<path d="M1317.6,2054.4C1318.6,2051.1 1318.6,2039.8 1323.6,2034.6C1328.5,2029.3 1337.4,2026.0 1347.3,2022.7C1357.2,2019.4 1370.4,2016.7 1383.0,2014.8C1395.5,2012.8 1411.4,2012.1 1422.6,2010.8C1433.8,2009.5 1443.7,2005.5 1450.3,2006.8C1456.9,2008.2 1460.2,2016.7 1462.2,2018.7" stroke="#2e2e2e" stroke-width="3" fill="none"/>
<path d="M1299.8,2109.8C1300.4,2106.5 1299.8,2094.6 1303.7,2090.0C1307.7,2085.4 1317.0,2082.8 1323.6,2082.1C1330.2,2081.4 1338.7,2082.8 1343.4,2086.1C1348.0,2089.4 1350.0,2099.3 1351.3,2101.9" stroke="#242424" stroke-width="3" fill="none"/>
<path d="M1260.2,2062.3C1260.8,2067.6 1260.8,2083.4 1264.1,2094.0C1267.4,2104.6 1277.7,2113.8 1280.0,2125.7C1282.3,2137.6 1278.3,2158.7 1278.0,2165.3" stroke="#222" stroke-width="4" fill="none"/>
<path d="M848.2,2385.1C866.0,2386.0 915.5,2391.3 955.2,2390.3C994.8,2389.3 1044.3,2384.4 1085.9,2379.2C1127.5,2374.1 1165.1,2366.7 1204.7,2359.4C1244.3,2352.1 1280.6,2345.2 1323.6,2335.6C1366.5,2326.1 1439.1,2307.6 1462.2,2302.0" stroke="#5c5c5c" stroke-width="2.4" fill="none"/>
<path d="M848.2,2096.0C858.1,2098.9 888.5,2107.9 907.6,2113.8C926.8,2119.7 950.2,2127.8 963.1,2131.6C976.0,2135.4 976.3,2133.5 984.9,2136.8C993.4,2140.1 1004.3,2146.0 1014.6,2151.4C1024.8,2156.8 1037.0,2164.3 1046.3,2169.3C1055.5,2174.2 1064.1,2178.8 1070.0,2181.1C1076.0,2183.4 1076.6,2183.8 1081.9,2183.1C1087.2,2182.5 1094.5,2180.1 1101.7,2177.2C1109.0,2174.2 1118.6,2168.3 1125.5,2165.3C1132.4,2162.3 1136.7,2162.0 1143.3,2159.3C1149.9,2156.7 1157.5,2152.4 1165.1,2149.4C1172.7,2146.5 1180.3,2144.2 1188.9,2141.5C1197.5,2138.9 1206.7,2136.2 1216.6,2133.6C1226.5,2131.0 1237.1,2128.0 1248.3,2125.7C1259.5,2123.4 1271.4,2122.5 1283.9,2119.7C1296.5,2117.0 1310.4,2112.7 1323.6,2109.0C1336.8,2105.4 1350.0,2101.4 1363.2,2097.9C1376.4,2094.4 1386.3,2092.0 1402.8,2088.0C1419.3,2084.1 1452.3,2076.5 1462.2,2074.2" stroke="#700000" stroke-width="3" fill="none"/>
<ellipse cx="891.0" cy="2088.0" rx="14.2" ry="9.4" fill="#900"/>
<ellipse cx="1124.7" cy="2151.4" rx="8.2" ry="11.4" fill="#900"/>
<ellipse cx="1256.2" cy="2117.0" rx="12.6" ry="9.4" fill="#900"/>
<ellipse cx="1278.0" cy="2111.8" rx="12.6" ry="8.6" fill="#900"/>
<ellipse cx="1454.3" cy="2067.1" rx="10.2" ry="7.0" fill="#900"/>
<ellipse cx="1352.1" cy="2213.6" rx="7.4" ry="9.4" fill="#900"/>
<ellipse cx="1139.4" cy="2295.2" rx="3.5" ry="5.5" fill="#900"/>
<ellipse cx="986.1" cy="2136.8" rx="5.1" ry="4.3" fill="#900"/>
</g>
<path d="M848.2,2096.0C858.1,2098.9 888.5,2107.9 907.6,2113.8C926.8,2119.7 950.2,2127.8 963.1,2131.6C976.0,2135.4 976.3,2133.5 984.9,2136.8C993.4,2140.1 1004.3,2146.0 1014.6,2151.4C1024.8,2156.8 1037.0,2164.3 1046.3,2169.3C1055.5,2174.2 1064.1,2178.8 1070.0,2181.1C1076.0,2183.4 1076.6,2183.8 1081.9,2183.1C1087.2,2182.5 1094.5,2180.1 1101.7,2177.2C1109.0,2174.2 1118.6,2168.3 1125.5,2165.3C1132.4,2162.3 1136.7,2162.0 1143.3,2159.3C1149.9,2156.7 1157.5,2152.4 1165.1,2149.4C1172.7,2146.5 1180.3,2144.2 1188.9,2141.5C1197.5,2138.9 1206.7,2136.2 1216.6,2133.6C1226.5,2131.0 1237.1,2128.0 1248.3,2125.7C1259.5,2123.4 1271.4,2122.5 1283.9,2119.7C1296.5,2117.0 1310.4,2112.7 1323.6,2109.0C1336.8,2105.4 1350.0,2101.4 1363.2,2097.9C1376.4,2094.4 1386.3,2092.0 1402.8,2088.0C1419.3,2084.1 1452.3,2076.5 1462.2,2074.2" stroke="#e81010" stroke-width="1.4" fill="none"/>
<path d="M1014.6,2151.4C1019.9,2154.4 1037.0,2164.3 1046.3,2169.3C1055.5,2174.2 1064.1,2178.8 1070.0,2181.1C1076.0,2183.4 1076.6,2183.8 1081.9,2183.1C1087.2,2182.5 1094.5,2180.1 1101.7,2177.2C1109.0,2174.2 1118.6,2168.3 1125.5,2165.3C1132.4,2162.3 1136.7,2162.0 1143.3,2159.3C1149.9,2156.7 1157.5,2152.4 1165.1,2149.4C1172.7,2146.5 1180.3,2144.2 1188.9,2141.5C1197.5,2138.9 1206.7,2136.2 1216.6,2133.6C1226.5,2131.0 1243.0,2127.0 1248.3,2125.7" stroke="#ff1515" stroke-width="2.4" fill="none"/>
<path d="M1143.3,2159.3C1142.7,2164.3 1140.3,2179.5 1139.4,2189.1C1138.4,2198.6 1137.4,2208.9 1137.4,2216.8C1137.4,2224.7 1139.9,2231.0 1139.4,2236.6C1138.8,2242.2 1134.7,2243.9 1134.2,2250.5C1133.7,2257.1 1135.7,2268.6 1136.6,2276.2C1137.4,2283.8 1138.9,2292.7 1139.4,2296.0" stroke="#e01010" stroke-width="1.3" fill="none"/>
<path d="M1308.5,2113.8C1310.0,2119.1 1314.1,2135.6 1317.6,2145.5C1321.1,2155.4 1325.5,2164.6 1329.5,2173.2C1333.5,2181.8 1337.6,2190.2 1341.4,2197.0C1345.1,2203.7 1349.0,2207.5 1352.1,2213.6C1355.2,2219.7 1358.7,2230.1 1360.0,2233.4" stroke="#e01010" stroke-width="1.3" fill="none"/>
<path d="M1406.0,2086.1C1405.8,2090.0 1406.0,2103.2 1404.8,2109.8C1403.6,2116.4 1398.5,2119.1 1398.8,2125.7C1399.2,2132.3 1403.4,2142.2 1406.7,2149.4C1410.0,2156.7 1414.0,2163.3 1418.6,2169.3C1423.2,2175.2 1430.0,2181.0 1434.5,2185.1C1439.0,2189.2 1443.7,2192.4 1445.6,2193.8" stroke="#e01010" stroke-width="1.3" fill="none"/>
<path d="M990.8,2260.4C989.8,2265.0 986.3,2279.2 984.9,2288.1C983.4,2297.0 982.6,2309.5 982.1,2313.8" stroke="#e01010" stroke-width="1.3" fill="none"/>
<path d="M916.3,2278.2C916.6,2282.5 917.7,2299.6 917.9,2303.9" stroke="#e01010" stroke-width="1.3" fill="none"/>
<path d="M848.2,2096.0C850.8,2095.3 858.8,2093.7 864.0,2092.0C869.3,2090.4 877.2,2087.1 879.9,2086.1" stroke="#e01010" stroke-width="1.3" fill="none"/>
<ellipse cx="891.0" cy="2088.0" rx="12.7" ry="7.9" fill="#ff0d0d"/>
<ellipse cx="1124.7" cy="2151.4" rx="6.7" ry="9.9" fill="#ff0d0d"/>
<ellipse cx="1256.2" cy="2117.0" rx="11.1" ry="7.9" fill="#ff0d0d"/>
<ellipse cx="1278.0" cy="2111.8" rx="11.1" ry="7.1" fill="#ff0d0d"/>
<ellipse cx="1454.3" cy="2067.1" rx="8.7" ry="5.5" fill="#ff0d0d"/>
<ellipse cx="1352.1" cy="2213.6" rx="5.9" ry="7.9" fill="#ff0d0d"/>
<ellipse cx="1139.4" cy="2295.2" rx="2.0" ry="4.0" fill="#ff0d0d"/>
<ellipse cx="986.1" cy="2136.8" rx="3.6" ry="2.8" fill="#ff0d0d"/>
<text x="1457" y="2494.5" font-family="Liberation Sans" font-size="7.5" fill="#ddd" text-anchor="end">0   µm   10</text>
<rect x="1420.0" y="2495.6" width="37.0" height="0.8" fill="#ccc" />
</g>
<g clip-path="url(#cp3)">
<rect x="1506.0" y="1888.0" width="604.0" height="611.5" fill="url(#p3g)" />
<path d="M1506.0,2296.0 L1529.8,2278.1 L1553.5,2268.2 L1575.3,2262.3 L1579.3,2267.0 L1585.2,2268.2 L1609.0,2271.4 L1636.7,2268.2 L1664.4,2260.3 L1680.3,2256.3 L1686.2,2259.1 L1696.1,2267.0 L1708.0,2268.2 L1743.6,2262.3 L1763.4,2262.3 L1791.2,2270.2 L1822.9,2278.1 L1854.5,2288.0 L1878.3,2297.9 L1902.1,2303.9 L1933.8,2317.7 L1965.4,2331.6 L1997.1,2343.5 L2016.9,2351.4 L2036.7,2375.2 L2056.5,2406.9 L2072.4,2438.5 L2088.2,2470.2 L2100.1,2499.9 L1506.0,2499.9 Z" fill="#1b1b1b" />
<path d="M1506.0,2296.0 L1529.8,2278.1 L1553.5,2268.2 L1575.3,2262.3 L1579.3,2267.0 L1585.2,2268.2 L1609.0,2271.4 L1636.7,2268.2 L1664.4,2260.3 L1680.3,2256.3 L1686.2,2259.1 L1696.1,2267.0 L1708.0,2268.2 L1743.6,2262.3 L1763.4,2262.3 L1791.2,2270.2 L1822.9,2278.1 L1854.5,2288.0 L1878.3,2297.9 L1902.1,2303.9 L1933.8,2317.7 L1965.4,2331.6 L1997.1,2343.5 L2016.9,2351.4 L2036.7,2375.2 L2056.5,2406.9 L2072.4,2438.5 L2088.2,2470.2 L2100.1,2499.9 L1506.0,2499.9 Z" fill="#fff" filter="url(#grain)" opacity="0.07"/>
<path d="M1886.2,1888.0 L1921.9,1919.7 L1981.3,1947.4 L2060.5,1979.1 L2110.0,1998.9 L2110.0,1888.0 Z" fill="#2a2a2a" />
<path d="M1506.0,1888.0 L1672.3,1888.0 L1585.2,1892.8 L1506.0,1904.6 Z" fill="#141414" />
<path d="M1842.7,2054.3 L2110.0,2038.5 L2110.0,2462.3 L2072.4,2434.6 L2020.9,2351.4 L1941.7,2284.1 L1822.9,2236.5 L1783.2,2189.0 L1807.0,2109.8 Z" fill="#000" filter="url(#graind)" opacity="0.35"/>
<path d="M1506.0,1911.8 L2110.0,2006.8 L2110.0,2499.9 L1506.0,2296.0 Z" fill="#fff" filter="url(#grainc)" opacity="0.035"/>
<g filter="url(#b1)">
<path d="M1886.2,1888.0C1892.2,1893.3 1906.0,1909.8 1921.9,1919.7C1937.7,1929.6 1958.2,1937.5 1981.3,1947.4C2004.4,1957.3 2039.0,1970.5 2060.5,1979.1C2082.0,1987.7 2101.8,1995.6 2110.0,1998.9" stroke="#0c0c0c" stroke-width="3.2" fill="none"/>
<path d="M1888.6,1884.8C1894.5,1890.1 1908.4,1906.6 1924.2,1916.5C1940.1,1926.4 1960.6,1934.3 1983.7,1944.2C2006.8,1954.1 2041.4,1967.3 2062.9,1975.9C2084.3,1984.5 2104.1,1992.4 2112.4,1995.7" stroke="#484848" stroke-width="1.4" fill="none"/>
<path d="M1506.0,1904.6C1519.2,1902.7 1557.5,1895.5 1585.2,1892.8C1612.9,1890.0 1657.8,1888.8 1672.3,1888.0" stroke="#0a0a0a" stroke-width="3" fill="none"/>
<path d="M1696.1,1895.9C1717.2,1901.2 1781.9,1915.7 1822.9,1927.6C1863.8,1939.5 1902.1,1952.0 1941.7,1967.2C1981.3,1982.4 2032.4,2005.5 2060.5,2018.7C2088.6,2031.9 2101.8,2041.8 2110.0,2046.4" stroke="#1a1a1a" stroke-width="2.5" fill="none"/>
<path d="M1743.6,2030.6C1763.4,2033.2 1822.9,2039.8 1862.5,2046.4C1902.1,2053.0 1940.0,2059.6 1981.3,2070.2C2022.5,2080.8 2088.6,2103.2 2110.0,2109.8" stroke="#1c1c1c" stroke-width="2" fill="none"/>
<ellipse cx="1611.0" cy="2125.6" rx="67.3" ry="73.3" fill="#000" fill-opacity="0.05" stroke="#131313" stroke-width="3.4" transform="rotate(-8 1611.0 2125.6)"/>
<ellipse cx="1611.0" cy="2125.6" rx="70.3" ry="76.3" fill="none" stroke="#343434" stroke-width="1.5" transform="rotate(-8 1611.0 2125.6)"/>
<ellipse cx="1822.9" cy="2167.2" rx="69.3" ry="63.4" fill="#000" fill-opacity="0.05" stroke="#131313" stroke-width="3.4" transform="rotate(-10 1822.9 2167.2)"/>
<ellipse cx="1822.9" cy="2167.2" rx="72.3" ry="66.4" fill="none" stroke="#343434" stroke-width="1.5" transform="rotate(-10 1822.9 2167.2)"/>
<ellipse cx="1498.1" cy="2161.3" rx="39.6" ry="69.3" fill="#000" fill-opacity="0.05" stroke="#131313" stroke-width="3.4" transform="rotate(0 1498.1 2161.3)"/>
<ellipse cx="1498.1" cy="2161.3" rx="42.6" ry="72.3" fill="none" stroke="#343434" stroke-width="1.5" transform="rotate(0 1498.1 2161.3)"/>
<path d="M1799.1,2236.5C1806.4,2239.8 1825.5,2251.1 1842.7,2256.3C1859.8,2261.6 1882.3,2266.9 1902.1,2268.2C1921.9,2269.5 1946.3,2266.9 1961.5,2264.3C1976.7,2261.6 1989.2,2258.3 1993.2,2252.4C1997.1,2246.4 1992.5,2235.9 1985.2,2228.6C1978.0,2221.4 1963.5,2212.8 1949.6,2208.8C1935.7,2204.9 1910.0,2205.5 1902.1,2204.9" stroke="#181818" stroke-width="2.5" fill="none"/>
<path d="M1981.3,2157.3C1989.9,2158.6 2017.6,2157.3 2032.8,2165.2C2048.0,2173.2 2065.1,2191.7 2072.4,2204.9C2079.6,2218.1 2079.6,2233.9 2076.3,2244.5C2073.0,2255.0 2062.5,2265.6 2052.6,2268.2C2042.7,2270.9 2022.9,2261.6 2016.9,2260.3" stroke="#1b1b1b" stroke-width="2" fill="none"/>
<path d="M2005.0,2284.1C2007.0,2290.0 2011.6,2309.2 2016.9,2319.7C2022.2,2330.3 2027.5,2340.2 2036.7,2347.4C2046.0,2354.7 2060.2,2361.3 2072.4,2363.3C2084.6,2365.3 2103.7,2360.0 2110.0,2359.3" stroke="#1b1b1b" stroke-width="2" fill="none"/>
<path d="M1683.4,2258.3C1682.8,2249.4 1679.2,2223.7 1679.5,2204.9C1679.7,2186.0 1684.9,2163.9 1685.0,2145.4C1685.2,2127.0 1685.0,2107.2 1680.3,2094.0C1675.5,2080.8 1665.7,2073.2 1656.5,2066.2C1647.3,2059.3 1636.7,2054.0 1624.8,2052.4C1612.9,2050.7 1598.4,2052.7 1585.2,2056.3C1572.0,2060.0 1558.8,2067.9 1545.6,2074.2C1532.4,2080.4 1512.6,2090.7 1506.0,2094.0" stroke="#141414" stroke-width="2.6" fill="none"/>
<path d="M1688.2,2258.3C1687.5,2249.4 1684.0,2223.7 1684.2,2204.9C1684.5,2186.0 1689.6,2163.9 1689.8,2145.4C1689.9,2127.0 1685.8,2102.5 1685.0,2094.0" stroke="#333" stroke-width="1.3" fill="none"/>
<path d="M1692.2,2094.0C1698.1,2094.6 1712.6,2095.3 1727.8,2097.9C1743.0,2100.6 1760.8,2109.1 1783.2,2109.8C1805.7,2110.5 1842.7,2099.2 1862.5,2101.9C1882.3,2104.5 1888.9,2116.4 1902.1,2125.6C1915.3,2134.9 1935.1,2152.0 1941.7,2157.3" stroke="#171717" stroke-width="2.2" fill="none"/>
<path d="M1506.0,2298.7C1510.0,2295.8 1521.8,2285.5 1529.8,2280.9C1537.7,2276.3 1545.9,2273.6 1553.5,2271.0C1561.1,2268.4 1571.0,2265.3 1575.3,2265.1C1579.6,2264.9 1577.6,2268.8 1579.3,2269.8C1580.9,2270.8 1580.3,2270.3 1585.2,2271.0C1590.2,2271.7 1600.4,2274.2 1609.0,2274.2C1617.6,2274.2 1627.5,2272.8 1636.7,2271.0C1645.9,2269.2 1657.2,2265.1 1664.4,2263.1C1671.7,2261.1 1676.6,2259.3 1680.3,2259.1C1683.9,2258.9 1683.6,2260.1 1686.2,2261.9C1688.9,2263.7 1692.5,2268.3 1696.1,2269.8C1699.7,2271.3 1700.1,2271.8 1708.0,2271.0C1715.9,2270.2 1734.4,2266.0 1743.6,2265.1C1752.9,2264.1 1755.5,2263.7 1763.4,2265.1C1771.4,2266.4 1781.3,2270.3 1791.2,2273.0C1801.1,2275.6 1812.3,2277.9 1822.9,2280.9C1833.4,2283.9 1845.3,2287.5 1854.5,2290.8C1863.8,2294.1 1870.4,2298.1 1878.3,2300.7C1886.2,2303.3 1892.8,2303.3 1902.1,2306.6C1911.3,2309.9 1923.2,2315.9 1933.8,2320.5C1944.3,2325.1 1954.9,2330.1 1965.4,2334.4C1976.0,2338.7 1988.5,2343.0 1997.1,2346.3C2005.7,2349.6 2010.3,2348.9 2016.9,2354.2C2023.5,2359.5 2030.1,2368.7 2036.7,2377.9C2043.3,2387.2 2050.6,2399.1 2056.5,2409.6C2062.5,2420.2 2067.1,2430.7 2072.4,2441.3C2077.7,2451.9 2083.6,2462.8 2088.2,2473.0C2092.8,2483.2 2098.1,2497.7 2100.1,2502.7" stroke="#0e0e0e" stroke-width="4" fill="none"/>
</g>
<path d="M1506.0,2296.0C1510.0,2293.0 1521.8,2282.7 1529.8,2278.1C1537.7,2273.5 1545.9,2270.9 1553.5,2268.2C1561.1,2265.6 1571.0,2262.5 1575.3,2262.3C1579.6,2262.1 1577.6,2266.0 1579.3,2267.0C1580.9,2268.0 1580.3,2267.5 1585.2,2268.2C1590.2,2269.0 1600.4,2271.4 1609.0,2271.4C1617.6,2271.4 1627.5,2270.1 1636.7,2268.2C1645.9,2266.4 1657.2,2262.3 1664.4,2260.3C1671.7,2258.3 1676.6,2256.5 1680.3,2256.3C1683.9,2256.1 1683.6,2257.3 1686.2,2259.1C1688.9,2260.9 1692.5,2265.5 1696.1,2267.0C1699.7,2268.6 1700.1,2269.0 1708.0,2268.2C1715.9,2267.4 1734.4,2263.3 1743.6,2262.3C1752.9,2261.3 1755.5,2261.0 1763.4,2262.3C1771.4,2263.6 1781.3,2267.6 1791.2,2270.2C1801.1,2272.8 1812.3,2275.2 1822.9,2278.1C1833.4,2281.1 1845.3,2284.7 1854.5,2288.0C1863.8,2291.3 1870.4,2295.3 1878.3,2297.9C1886.2,2300.6 1892.8,2300.6 1902.1,2303.9C1911.3,2307.2 1923.2,2313.1 1933.8,2317.7C1944.3,2322.4 1954.9,2327.3 1965.4,2331.6C1976.0,2335.9 1988.5,2340.2 1997.1,2343.5C2005.7,2346.8 2010.3,2346.1 2016.9,2351.4C2023.5,2356.7 2030.1,2365.9 2036.7,2375.2C2043.3,2384.4 2050.6,2396.3 2056.5,2406.9C2062.5,2417.4 2067.1,2428.0 2072.4,2438.5C2077.7,2449.1 2083.6,2460.0 2088.2,2470.2C2092.8,2480.5 2098.1,2495.0 2100.1,2499.9" stroke="#8a8a8a" stroke-width="2.0" fill="none" filter="url(#gl2)"/>
<g filter="url(#b1)">
<path d="M1506.0,2293.6C1510.0,2290.6 1521.8,2280.4 1529.8,2275.8C1537.7,2271.1 1545.9,2268.5 1553.5,2265.9C1561.1,2263.2 1571.0,2260.1 1575.3,2259.9C1579.6,2259.7 1577.6,2263.7 1579.3,2264.7C1580.9,2265.7 1580.3,2265.1 1585.2,2265.9C1590.2,2266.6 1600.4,2269.0 1609.0,2269.0C1617.6,2269.0 1627.5,2267.7 1636.7,2265.9C1645.9,2264.0 1657.2,2259.9 1664.4,2257.9C1671.7,2255.9 1676.6,2254.2 1680.3,2254.0C1683.9,2253.8 1683.6,2255.0 1686.2,2256.7C1688.9,2258.5 1692.5,2263.1 1696.1,2264.7C1699.7,2266.2 1700.1,2266.6 1708.0,2265.9C1715.9,2265.1 1734.4,2260.9 1743.6,2259.9C1752.9,2258.9 1755.5,2258.6 1763.4,2259.9C1771.4,2261.2 1781.3,2265.2 1791.2,2267.8C1801.1,2270.5 1812.3,2272.8 1822.9,2275.8C1833.4,2278.7 1845.3,2282.4 1854.5,2285.7C1863.8,2289.0 1870.4,2292.9 1878.3,2295.6C1886.2,2298.2 1892.8,2298.2 1902.1,2301.5C1911.3,2304.8 1923.2,2310.7 1933.8,2315.4C1944.3,2320.0 1954.9,2324.9 1965.4,2329.2C1976.0,2333.5 1988.5,2337.8 1997.1,2341.1C2005.7,2344.4 2010.3,2343.7 2016.9,2349.0C2023.5,2354.3 2030.1,2363.5 2036.7,2372.8C2043.3,2382.0 2050.6,2393.9 2056.5,2404.5C2062.5,2415.0 2067.1,2425.6 2072.4,2436.2C2077.7,2446.7 2083.6,2457.6 2088.2,2467.8C2092.8,2478.1 2098.1,2492.6 2100.1,2497.6" stroke="#2e2e2e" stroke-width="3" fill="none"/>
<circle cx="1609.8" cy="2117.7" r="2.4" fill="#0e0e0e"/>
<circle cx="1624.8" cy="2141.5" r="1.6" fill="#0e0e0e"/>
<circle cx="1612.9" cy="2179.1" r="2.0" fill="#0e0e0e"/>
<circle cx="1739.7" cy="2195.0" r="4.8" fill="#0e0e0e"/>
<circle cx="1729.8" cy="2169.2" r="2.4" fill="#0e0e0e"/>
<circle cx="1814.9" cy="2006.8" r="2.0" fill="#0e0e0e"/>
<circle cx="1939.7" cy="2020.7" r="2.0" fill="#0e0e0e"/>
<circle cx="1858.5" cy="2474.2" r="1.2" fill="#0e0e0e"/>
<path d="M1878.3,2296.7C1882.3,2298.1 1892.8,2301.6 1902.1,2304.7C1911.3,2307.7 1924.5,2311.7 1933.8,2315.0C1943.0,2318.3 1953.6,2322.9 1957.5,2324.5" stroke="#c01010" stroke-width="1.6" fill="none"/>
<ellipse cx="1883.5" cy="2287.2" rx="9.4" ry="8.2" fill="#900"/>
<ellipse cx="1908.0" cy="2294.8" rx="14.2" ry="9.4" fill="#900"/>
<ellipse cx="1537.7" cy="2270.2" rx="9" ry="4" fill="#701010" opacity="0.6"/>
</g>
<ellipse cx="1883.5" cy="2287.2" rx="7.9" ry="6.7" fill="#ff0d0d"/>
<ellipse cx="1908.0" cy="2294.8" rx="12.7" ry="7.9" fill="#ff0d0d"/>
<circle cx="2001.1" cy="1938.7" r="2.6" fill="#f01010"/>
<circle cx="1628.8" cy="2254.4" r="1.6" fill="#c01010"/>
<text x="2103" y="2494.5" font-family="Liberation Sans" font-size="7.5" fill="#ddd" text-anchor="end">0   µm  </text>
<rect x="2082.0" y="2495.6" width="27.0" height="0.8" fill="#ccc" />
</g>
<text x="2544.7" y="1557.0" font-family="Liberation Serif" font-size="94" font-weight="normal" font-style="normal" text-anchor="start" fill="#000" >D</text>
<rect x="2739.0" y="1612.5" width="8.5" height="725.0" fill="#000" />
<rect x="2719.6" y="1612.3" width="20.4" height="8.6" fill="#000" />
<rect x="2719.6" y="1790.7" width="20.4" height="8.6" fill="#000" />
<rect x="2719.6" y="1969.4" width="20.4" height="8.6" fill="#000" />
<rect x="2719.6" y="2149.7" width="20.4" height="8.6" fill="#000" />
<rect x="2719.6" y="2328.9" width="20.4" height="8.6" fill="#000" />
<rect x="2719.6" y="2329.0" width="1023.9" height="8.5" fill="#000" />
<rect x="2987.4" y="2337.0" width="8.4" height="19.2" fill="#000" />
<rect x="3484.8" y="2337.0" width="8.4" height="19.2" fill="#000" />
<circle cx="2935.0" cy="1795.7" r="12.9" fill="#000"/>
<circle cx="2972.5" cy="1795.7" r="12.9" fill="#000"/>
<circle cx="3010.0" cy="1795.7" r="12.9" fill="#000"/>
<circle cx="3047.5" cy="1795.7" r="12.9" fill="#000"/>
<circle cx="2860.0" cy="1974.3" r="12.9" fill="#000"/>
<circle cx="2897.5" cy="1974.3" r="12.9" fill="#000"/>
<circle cx="2935.0" cy="1974.3" r="12.9" fill="#000"/>
<circle cx="2972.5" cy="1974.3" r="12.9" fill="#000"/>
<circle cx="3010.0" cy="1974.3" r="12.9" fill="#000"/>
<circle cx="3047.5" cy="1974.3" r="12.9" fill="#000"/>
<circle cx="3085.0" cy="1974.3" r="12.9" fill="#000"/>
<circle cx="3122.5" cy="1974.3" r="12.9" fill="#000"/>
<circle cx="2838.2" cy="2154.6" r="12.9" fill="#000"/>
<circle cx="2866.0" cy="2154.6" r="12.9" fill="#000"/>
<circle cx="2893.8" cy="2154.6" r="12.9" fill="#000"/>
<circle cx="2921.6" cy="2154.6" r="12.9" fill="#000"/>
<circle cx="2949.4" cy="2154.6" r="12.9" fill="#000"/>
<circle cx="2977.2" cy="2154.6" r="12.9" fill="#000"/>
<circle cx="3005.0" cy="2154.6" r="12.9" fill="#000"/>
<circle cx="3032.8" cy="2154.6" r="12.9" fill="#000"/>
<circle cx="3060.6" cy="2154.6" r="12.9" fill="#000"/>
<circle cx="3088.4" cy="2154.6" r="12.9" fill="#000"/>
<circle cx="3116.2" cy="2154.6" r="12.9" fill="#000"/>
<circle cx="3144.0" cy="2154.6" r="12.9" fill="#000"/>
<circle cx="2838.2" cy="2334.0" r="12.9" fill="#000"/>
<circle cx="2866.0" cy="2334.0" r="12.9" fill="#000"/>
<circle cx="2893.8" cy="2334.0" r="12.9" fill="#000"/>
<circle cx="2921.6" cy="2334.0" r="12.9" fill="#000"/>
<circle cx="2949.4" cy="2334.0" r="12.9" fill="#000"/>
<circle cx="2977.2" cy="2334.0" r="12.9" fill="#000"/>
<circle cx="3005.0" cy="2334.0" r="12.9" fill="#000"/>
<circle cx="3032.8" cy="2334.0" r="12.9" fill="#000"/>
<circle cx="3060.6" cy="2334.0" r="12.9" fill="#000"/>
<circle cx="3088.4" cy="2334.0" r="12.9" fill="#000"/>
<circle cx="3116.2" cy="2334.0" r="12.9" fill="#000"/>
<circle cx="3144.0" cy="2334.0" r="12.9" fill="#000"/>
<path d="M2820,2333 L2820,2132.5 L2825,2127.5 L3158.6,2127.5 L3163.6,2132.5 L3163.6,2333 L3151.6,2333 L3151.6,2141.0 L2832,2141.0 L2832,2333 Z" fill="#000"/>
<rect x="2908.0" y="2097.5" width="166.0" height="12.5" fill="#000" />
<rect x="2908.0" y="2158.0" width="166.0" height="12.7" fill="#000" />
<rect x="2985.7" y="2097.5" width="11.3" height="73.2" fill="#000" />
<path d="M3317.5,2333 L3317.5,2199.6 L3322.5,2194.6 L3656.6,2194.6 L3661.6,2199.6 L3661.6,2333 L3649.6,2333 L3649.6,2207.0 L3329.5,2207.0 L3329.5,2333 Z" fill="#000"/>
<rect x="3407.0" y="2167.0" width="165.5" height="12.0" fill="#000" />
<rect x="3407.0" y="2222.0" width="165.5" height="12.5" fill="#000" />
<rect x="3483.7" y="2167.0" width="12.0" height="67.5" fill="#000" />
<circle cx="3471.0" cy="1795.6" r="13" fill="#fe0000"/>
<circle cx="3508.5" cy="1795.6" r="13" fill="#fe0000"/>
<circle cx="3414.5" cy="1974.8" r="13" fill="#fe0000"/>
<circle cx="3452.0" cy="1974.8" r="13" fill="#fe0000"/>
<circle cx="3489.5" cy="1974.8" r="13" fill="#fe0000"/>
<circle cx="3527.0" cy="1974.8" r="13" fill="#fe0000"/>
<circle cx="3564.5" cy="1974.8" r="13" fill="#fe0000"/>
<circle cx="3339.5" cy="2154.8" r="13" fill="#fe0000"/>
<circle cx="3372.9" cy="2154.8" r="13" fill="#fe0000"/>
<circle cx="3406.3" cy="2154.8" r="13" fill="#fe0000"/>
<circle cx="3439.7" cy="2154.8" r="13" fill="#fe0000"/>
<circle cx="3473.1" cy="2154.8" r="13" fill="#fe0000"/>
<circle cx="3506.5" cy="2154.8" r="13" fill="#fe0000"/>
<circle cx="3539.9" cy="2154.8" r="13" fill="#fe0000"/>
<circle cx="3573.3" cy="2154.8" r="13" fill="#fe0000"/>
<circle cx="3606.7" cy="2154.8" r="13" fill="#fe0000"/>
<circle cx="3640.1" cy="2154.8" r="13" fill="#fe0000"/>
<circle cx="3335.4" cy="2334.0" r="13" fill="#fe0000"/>
<circle cx="3353.6" cy="2334.0" r="13" fill="#fe0000"/>
<circle cx="3371.8" cy="2334.0" r="13" fill="#fe0000"/>
<circle cx="3389.9" cy="2334.0" r="13" fill="#fe0000"/>
<circle cx="3408.1" cy="2334.0" r="13" fill="#fe0000"/>
<circle cx="3426.3" cy="2334.0" r="13" fill="#fe0000"/>
<circle cx="3444.5" cy="2334.0" r="13" fill="#fe0000"/>
<circle cx="3462.7" cy="2334.0" r="13" fill="#fe0000"/>
<circle cx="3480.8" cy="2334.0" r="13" fill="#fe0000"/>
<circle cx="3499.0" cy="2334.0" r="13" fill="#fe0000"/>
<circle cx="3517.2" cy="2334.0" r="13" fill="#fe0000"/>
<circle cx="3535.4" cy="2334.0" r="13" fill="#fe0000"/>
<circle cx="3553.6" cy="2334.0" r="13" fill="#fe0000"/>
<circle cx="3571.7" cy="2334.0" r="13" fill="#fe0000"/>
<circle cx="3589.9" cy="2334.0" r="13" fill="#fe0000"/>
<circle cx="3608.1" cy="2334.0" r="13" fill="#fe0000"/>
<circle cx="3626.3" cy="2334.0" r="13" fill="#fe0000"/>
<circle cx="3644.5" cy="2334.0" r="13" fill="#fe0000"/>
<rect x="3407.0" y="2167.0" width="165.5" height="12.0" fill="#000" />
<rect x="2984.6" y="1745.0" width="521.4" height="8.4" fill="#000" />
<text x="3210.1 3238.1" y="1740.9" font-family="Liberation Sans" font-weight="bold" font-size="58.5">**</text>
<text x="2710.0" y="1633.1" font-family="Liberation Serif" font-size="57" font-weight="bold" font-style="normal" text-anchor="end" fill="#000" >4</text>
<text x="2710.0" y="1811.5" font-family="Liberation Serif" font-size="57" font-weight="bold" font-style="normal" text-anchor="end" fill="#000" >3</text>
<text x="2710.0" y="1990.2" font-family="Liberation Serif" font-size="57" font-weight="bold" font-style="normal" text-anchor="end" fill="#000" >2</text>
<text x="2710.0" y="2170.5" font-family="Liberation Serif" font-size="57" font-weight="bold" font-style="normal" text-anchor="end" fill="#000" >1</text>
<text x="2710.0" y="2349.7" font-family="Liberation Serif" font-size="57" font-weight="bold" font-style="normal" text-anchor="end" fill="#000" >0</text>
<text x="2895.1" y="2416.8" font-family="Liberation Serif" font-size="58" font-weight="bold" font-style="normal" text-anchor="start" fill="#000" >Control</text>
<text transform="translate(3309.9,2424.2) scale(1.23,1)" font-family="Liberation Serif" font-size="62">α</text>
<text x="3346.6" y="2417.0" font-family="Liberation Serif" font-size="58.5" font-weight="bold" font-style="normal" text-anchor="start" fill="#000" >-Asa</text>
<text x="3474.7" y="2417.0" font-family="Liberation Serif" font-size="59" font-weight="normal" font-style="normal" text-anchor="start" fill="#000" >(</text>
<text x="3493.4" y="2417.0" font-family="Liberation Serif" font-size="59" font-weight="bold" font-style="normal" text-anchor="start" fill="#000" >20</text>
<text x="3566.1" y="2424.0" font-family="Liberation Serif" font-size="58.5" font-weight="normal" font-style="normal" text-anchor="start" fill="#000" >µM</text>
<text x="3646.9" y="2417.0" font-family="Liberation Serif" font-size="59" font-weight="normal" font-style="normal" text-anchor="start" fill="#000" >)</text>
<text transform="translate(2635.7,1976.5) rotate(-90)" font-family="Liberation Serif" font-size="60" font-weight="bold" text-anchor="middle" textLength="319.0" lengthAdjust="spacing">Neurons lost</text>
</svg>
</body></html>
